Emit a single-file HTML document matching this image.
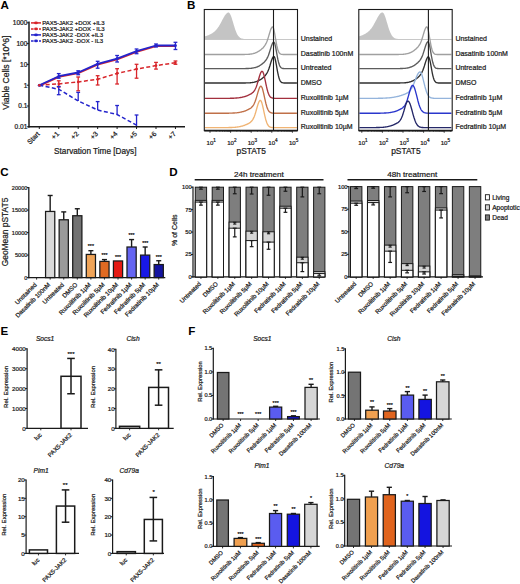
<!DOCTYPE html>
<html><head><meta charset="utf-8"><style>
html,body{margin:0;padding:0;background:#fff;width:520px;height:584px;overflow:hidden}
svg{display:block;font-family:"Liberation Sans",sans-serif}
</style></head><body>
<svg width="520" height="584" viewBox="0 0 520 584" font-family="Liberation Sans, sans-serif" fill="#1a1a1a"><text x="0.60" y="9.00" font-size="11.6" fill="#000" font-weight="bold">A</text>
<line x1="29.00" y1="21.50" x2="29.00" y2="127.50" stroke="#1a1a1a" stroke-width="1.5"/>
<line x1="28.30" y1="126.80" x2="185.00" y2="126.80" stroke="#1a1a1a" stroke-width="1.5"/>
<line x1="26.80" y1="22.80" x2="29.00" y2="22.80" stroke="#1a1a1a" stroke-width="1"/>
<text x="27.40" y="25.10" font-size="6.6" text-anchor="end" stroke="#1a1a1a" stroke-width="0.22">1000</text>
<line x1="26.80" y1="43.60" x2="29.00" y2="43.60" stroke="#1a1a1a" stroke-width="1"/>
<text x="27.40" y="45.90" font-size="6.6" text-anchor="end" stroke="#1a1a1a" stroke-width="0.22">100</text>
<line x1="26.80" y1="64.40" x2="29.00" y2="64.40" stroke="#1a1a1a" stroke-width="1"/>
<text x="27.40" y="66.70" font-size="6.6" text-anchor="end" stroke="#1a1a1a" stroke-width="0.22">10</text>
<line x1="26.80" y1="85.20" x2="29.00" y2="85.20" stroke="#1a1a1a" stroke-width="1"/>
<text x="27.40" y="87.50" font-size="6.6" text-anchor="end" stroke="#1a1a1a" stroke-width="0.22">1</text>
<line x1="26.80" y1="106.00" x2="29.00" y2="106.00" stroke="#1a1a1a" stroke-width="1"/>
<text x="27.40" y="108.30" font-size="6.6" text-anchor="end" stroke="#1a1a1a" stroke-width="0.22">0.1</text>
<line x1="26.80" y1="126.80" x2="29.00" y2="126.80" stroke="#1a1a1a" stroke-width="1"/>
<text x="27.40" y="129.10" font-size="6.6" text-anchor="end" stroke="#1a1a1a" stroke-width="0.22">0.01</text>
<line x1="39.30" y1="126.80" x2="39.30" y2="129.00" stroke="#1a1a1a" stroke-width="1"/>
<text x="40.20" y="134.40" font-size="6.9" text-anchor="end" stroke="#1a1a1a" stroke-width="0.22" transform="rotate(-45 40.20 134.40)">Start</text>
<line x1="58.75" y1="126.80" x2="58.75" y2="129.00" stroke="#1a1a1a" stroke-width="1"/>
<text x="59.65" y="134.40" font-size="6.9" text-anchor="end" stroke="#1a1a1a" stroke-width="0.22" transform="rotate(-45 59.65 134.40)">+1</text>
<line x1="78.20" y1="126.80" x2="78.20" y2="129.00" stroke="#1a1a1a" stroke-width="1"/>
<text x="79.10" y="134.40" font-size="6.9" text-anchor="end" stroke="#1a1a1a" stroke-width="0.22" transform="rotate(-45 79.10 134.40)">+2</text>
<line x1="97.65" y1="126.80" x2="97.65" y2="129.00" stroke="#1a1a1a" stroke-width="1"/>
<text x="98.55" y="134.40" font-size="6.9" text-anchor="end" stroke="#1a1a1a" stroke-width="0.22" transform="rotate(-45 98.55 134.40)">+3</text>
<line x1="117.10" y1="126.80" x2="117.10" y2="129.00" stroke="#1a1a1a" stroke-width="1"/>
<text x="118.00" y="134.40" font-size="6.9" text-anchor="end" stroke="#1a1a1a" stroke-width="0.22" transform="rotate(-45 118.00 134.40)">+4</text>
<line x1="136.55" y1="126.80" x2="136.55" y2="129.00" stroke="#1a1a1a" stroke-width="1"/>
<text x="137.45" y="134.40" font-size="6.9" text-anchor="end" stroke="#1a1a1a" stroke-width="0.22" transform="rotate(-45 137.45 134.40)">+5</text>
<line x1="156.00" y1="126.80" x2="156.00" y2="129.00" stroke="#1a1a1a" stroke-width="1"/>
<text x="156.90" y="134.40" font-size="6.9" text-anchor="end" stroke="#1a1a1a" stroke-width="0.22" transform="rotate(-45 156.90 134.40)">+6</text>
<line x1="175.45" y1="126.80" x2="175.45" y2="129.00" stroke="#1a1a1a" stroke-width="1"/>
<text x="176.35" y="134.40" font-size="6.9" text-anchor="end" stroke="#1a1a1a" stroke-width="0.22" transform="rotate(-45 176.35 134.40)">+7</text>
<text x="95.30" y="154.00" font-size="8.2" text-anchor="middle" stroke="#1a1a1a" stroke-width="0.22">Starvation Time [Days]</text>
<text x="9.20" y="72.60" font-size="8.6" text-anchor="middle" stroke="#1a1a1a" stroke-width="0.22" transform="rotate(-90 9.20 72.60)">Viable Cells [*10^6]</text>
<polyline points="39.3,85.9 58.8,76.9 78.2,73.2 97.6,64.6 117.1,59.3 136.6,51.9 156.0,46.2 175.4,46.2" fill="none" stroke="#d8262b" stroke-width="1.8" stroke-linejoin="round"/>
<polyline points="39.3,85.2 58.8,83.9 78.2,81.9 97.6,79.3 117.1,73.4 136.6,69.1 156.0,65.6 175.4,62.8" fill="none" stroke="#d8262b" stroke-width="1.5" stroke-dasharray="4,2.4" stroke-linejoin="round"/>
<polyline points="39.3,85.2 58.8,89.3 78.2,100.9 97.6,110.0 117.1,114.5 136.6,125.2" fill="none" stroke="#2424cc" stroke-width="1.5" stroke-dasharray="4,2.4" stroke-linejoin="round"/>
<polyline points="39.3,85.2 58.8,76.2 78.2,72.5 97.6,63.9 117.1,58.6 136.6,51.2 156.0,45.5 175.4,45.5" fill="none" stroke="#2424cc" stroke-width="1.8" stroke-linejoin="round"/>
<line x1="58.75" y1="73.60" x2="58.75" y2="78.20" stroke="#2424cc" stroke-width="1.3"/>
<line x1="56.85" y1="73.60" x2="60.65" y2="73.60" stroke="#2424cc" stroke-width="1.3"/>
<line x1="56.85" y1="78.20" x2="60.65" y2="78.20" stroke="#2424cc" stroke-width="1.3"/>
<line x1="78.20" y1="70.80" x2="78.20" y2="74.70" stroke="#2424cc" stroke-width="1.3"/>
<line x1="76.30" y1="70.80" x2="80.10" y2="70.80" stroke="#2424cc" stroke-width="1.3"/>
<line x1="76.30" y1="74.70" x2="80.10" y2="74.70" stroke="#2424cc" stroke-width="1.3"/>
<line x1="97.65" y1="61.30" x2="97.65" y2="68.20" stroke="#2424cc" stroke-width="1.3"/>
<line x1="95.75" y1="61.30" x2="99.55" y2="61.30" stroke="#2424cc" stroke-width="1.3"/>
<line x1="95.75" y1="68.20" x2="99.55" y2="68.20" stroke="#2424cc" stroke-width="1.3"/>
<line x1="117.10" y1="55.50" x2="117.10" y2="62.00" stroke="#2424cc" stroke-width="1.3"/>
<line x1="115.20" y1="55.50" x2="119.00" y2="55.50" stroke="#2424cc" stroke-width="1.3"/>
<line x1="115.20" y1="62.00" x2="119.00" y2="62.00" stroke="#2424cc" stroke-width="1.3"/>
<line x1="136.55" y1="49.00" x2="136.55" y2="53.70" stroke="#2424cc" stroke-width="1.3"/>
<line x1="134.65" y1="49.00" x2="138.45" y2="49.00" stroke="#2424cc" stroke-width="1.3"/>
<line x1="134.65" y1="53.70" x2="138.45" y2="53.70" stroke="#2424cc" stroke-width="1.3"/>
<line x1="156.00" y1="44.00" x2="156.00" y2="47.00" stroke="#2424cc" stroke-width="1.3"/>
<line x1="154.10" y1="44.00" x2="157.90" y2="44.00" stroke="#2424cc" stroke-width="1.3"/>
<line x1="154.10" y1="47.00" x2="157.90" y2="47.00" stroke="#2424cc" stroke-width="1.3"/>
<line x1="175.45" y1="42.30" x2="175.45" y2="49.50" stroke="#2424cc" stroke-width="1.3"/>
<line x1="173.55" y1="42.30" x2="177.35" y2="42.30" stroke="#2424cc" stroke-width="1.3"/>
<line x1="173.55" y1="49.50" x2="177.35" y2="49.50" stroke="#2424cc" stroke-width="1.3"/>
<line x1="58.75" y1="80.80" x2="58.75" y2="87.00" stroke="#d8262b" stroke-width="1.3"/>
<line x1="56.85" y1="80.80" x2="60.65" y2="80.80" stroke="#d8262b" stroke-width="1.3"/>
<line x1="56.85" y1="87.00" x2="60.65" y2="87.00" stroke="#d8262b" stroke-width="1.3"/>
<line x1="78.20" y1="77.00" x2="78.20" y2="90.80" stroke="#d8262b" stroke-width="1.3"/>
<line x1="76.30" y1="77.00" x2="80.10" y2="77.00" stroke="#d8262b" stroke-width="1.3"/>
<line x1="76.30" y1="90.80" x2="80.10" y2="90.80" stroke="#d8262b" stroke-width="1.3"/>
<line x1="97.65" y1="75.70" x2="97.65" y2="85.00" stroke="#d8262b" stroke-width="1.3"/>
<line x1="95.75" y1="75.70" x2="99.55" y2="75.70" stroke="#d8262b" stroke-width="1.3"/>
<line x1="95.75" y1="85.00" x2="99.55" y2="85.00" stroke="#d8262b" stroke-width="1.3"/>
<line x1="117.10" y1="68.70" x2="117.10" y2="84.00" stroke="#d8262b" stroke-width="1.3"/>
<line x1="115.20" y1="68.70" x2="119.00" y2="68.70" stroke="#d8262b" stroke-width="1.3"/>
<line x1="115.20" y1="84.00" x2="119.00" y2="84.00" stroke="#d8262b" stroke-width="1.3"/>
<line x1="136.55" y1="64.30" x2="136.55" y2="78.20" stroke="#d8262b" stroke-width="1.3"/>
<line x1="134.65" y1="64.30" x2="138.45" y2="64.30" stroke="#d8262b" stroke-width="1.3"/>
<line x1="134.65" y1="78.20" x2="138.45" y2="78.20" stroke="#d8262b" stroke-width="1.3"/>
<line x1="156.00" y1="62.40" x2="156.00" y2="69.10" stroke="#d8262b" stroke-width="1.3"/>
<line x1="154.10" y1="62.40" x2="157.90" y2="62.40" stroke="#d8262b" stroke-width="1.3"/>
<line x1="154.10" y1="69.10" x2="157.90" y2="69.10" stroke="#d8262b" stroke-width="1.3"/>
<line x1="175.45" y1="61.00" x2="175.45" y2="64.30" stroke="#d8262b" stroke-width="1.3"/>
<line x1="173.55" y1="61.00" x2="177.35" y2="61.00" stroke="#d8262b" stroke-width="1.3"/>
<line x1="173.55" y1="64.30" x2="177.35" y2="64.30" stroke="#d8262b" stroke-width="1.3"/>
<line x1="58.75" y1="86.50" x2="58.75" y2="94.70" stroke="#2424cc" stroke-width="1.3"/>
<line x1="56.85" y1="86.50" x2="60.65" y2="86.50" stroke="#2424cc" stroke-width="1.3"/>
<line x1="56.85" y1="94.70" x2="60.65" y2="94.70" stroke="#2424cc" stroke-width="1.3"/>
<line x1="78.20" y1="100.90" x2="78.20" y2="92.40" stroke="#2424cc" stroke-width="1.3"/>
<line x1="76.30" y1="92.40" x2="80.10" y2="92.40" stroke="#2424cc" stroke-width="1.3"/>
<line x1="97.65" y1="110.10" x2="97.65" y2="101.60" stroke="#2424cc" stroke-width="1.3"/>
<line x1="95.75" y1="101.60" x2="99.55" y2="101.60" stroke="#2424cc" stroke-width="1.3"/>
<line x1="117.10" y1="114.60" x2="117.10" y2="105.50" stroke="#2424cc" stroke-width="1.3"/>
<line x1="115.20" y1="105.50" x2="119.00" y2="105.50" stroke="#2424cc" stroke-width="1.3"/>
<line x1="136.55" y1="126.00" x2="136.55" y2="115.00" stroke="#2424cc" stroke-width="1.3"/>
<line x1="134.65" y1="115.00" x2="138.45" y2="115.00" stroke="#2424cc" stroke-width="1.3"/>
<circle cx="39.3" cy="85.2" r="1.5" fill="#2424cc"/>
<circle cx="58.8" cy="76.2" r="1.5" fill="#2424cc"/>
<circle cx="78.2" cy="72.5" r="1.5" fill="#2424cc"/>
<circle cx="97.6" cy="63.9" r="1.5" fill="#2424cc"/>
<circle cx="117.1" cy="58.6" r="1.5" fill="#2424cc"/>
<circle cx="136.6" cy="51.2" r="1.5" fill="#2424cc"/>
<circle cx="156.0" cy="45.5" r="1.5" fill="#2424cc"/>
<circle cx="175.4" cy="45.5" r="1.5" fill="#2424cc"/>
<circle cx="39.3" cy="85.2" r="1.3" fill="#d8262b"/>
<circle cx="58.8" cy="83.9" r="1.3" fill="#d8262b"/>
<circle cx="78.2" cy="81.9" r="1.3" fill="#d8262b"/>
<circle cx="97.6" cy="79.3" r="1.3" fill="#d8262b"/>
<circle cx="117.1" cy="73.4" r="1.3" fill="#d8262b"/>
<circle cx="136.6" cy="69.1" r="1.3" fill="#d8262b"/>
<circle cx="156.0" cy="65.6" r="1.3" fill="#d8262b"/>
<circle cx="175.4" cy="62.8" r="1.3" fill="#d8262b"/>
<line x1="31.00" y1="22.90" x2="41.00" y2="22.90" stroke="#d8262b" stroke-width="1.5"/>
<ellipse cx="36" cy="22.9" rx="1.9" ry="1.3" fill="#d8262b"/>
<text x="42.20" y="25.00" font-size="5.95" stroke="#1a1a1a" stroke-width="0.22">PAX5-JAK2 +DOX +IL3</text>
<line x1="31.00" y1="28.90" x2="41.00" y2="28.90" stroke="#d8262b" stroke-width="1.5" stroke-dasharray="2.6,1.4"/>
<ellipse cx="36" cy="28.9" rx="1.9" ry="1.3" fill="#d8262b"/>
<text x="42.20" y="31.00" font-size="5.95" stroke="#1a1a1a" stroke-width="0.22">PAX5-JAK2 +DOX - IL3</text>
<line x1="31.00" y1="34.90" x2="41.00" y2="34.90" stroke="#2424cc" stroke-width="1.5"/>
<ellipse cx="36" cy="34.9" rx="1.9" ry="1.3" fill="#2424cc"/>
<text x="42.20" y="37.00" font-size="5.95" stroke="#1a1a1a" stroke-width="0.22">PAX5-JAK2 -DOX +IL3</text>
<line x1="31.00" y1="40.90" x2="41.00" y2="40.90" stroke="#2424cc" stroke-width="1.5" stroke-dasharray="2.6,1.4"/>
<ellipse cx="36" cy="40.9" rx="1.9" ry="1.3" fill="#2424cc"/>
<text x="42.20" y="43.00" font-size="5.95" stroke="#1a1a1a" stroke-width="0.22">PAX5-JAK2 -DOX - IL3</text>
<text x="187.00" y="9.20" font-size="11.6" fill="#000" font-weight="bold">B</text>
<path d="M204.8,39 L204.8,36.5 L205.3,36.3 L205.8,36.1 L206.3,36.0 L206.8,35.8 L207.3,35.6 L207.8,35.4 L208.3,35.2 L208.8,35.0 L209.3,34.8 L209.8,34.5 L210.3,34.3 L210.8,34.0 L211.3,33.8 L211.8,33.5 L212.3,33.2 L212.8,32.8 L213.3,32.5 L213.8,32.1 L214.3,31.7 L214.8,31.3 L215.3,30.8 L215.8,30.3 L216.3,29.7 L216.8,29.1 L217.3,28.5 L217.8,27.8 L218.3,27.1 L218.8,26.4 L219.3,25.6 L219.8,24.7 L220.3,23.8 L220.8,22.9 L221.3,22.0 L221.8,21.0 L222.3,20.1 L222.8,19.1 L223.3,18.2 L223.8,17.3 L224.3,16.4 L224.8,15.6 L225.3,14.9 L225.8,14.2 L226.3,13.7 L226.8,13.2 L227.3,12.9 L227.8,12.6 L228.3,12.5 L228.8,12.6 L229.3,12.9 L229.8,13.5 L230.3,14.4 L230.8,15.5 L231.3,16.8 L231.8,18.3 L232.3,19.9 L232.8,21.6 L233.3,23.3 L233.8,25.0 L234.3,26.6 L234.8,28.2 L235.3,29.7 L235.8,31.1 L236.3,32.3 L236.8,33.4 L237.3,34.4 L237.8,35.3 L238.3,36.0 L238.8,36.6 L239.3,37.1 L239.8,37.5 L240.3,37.9 L240.8,38.1 L241.3,38.4 L241.8,38.5 L242.3,38.6 L242.8,38.7 L243.3,38.8 L243.8,38.9 L244.3,38.9 L244.3,39 Z" fill="#c4c4c4" stroke="none" stroke-width="0" />
<line x1="204.80" y1="39.50" x2="297.00" y2="39.50" stroke="#c8c8c8" stroke-width="1.1"/>
<text x="300.70" y="41.20" font-size="7.0" stroke="#1a1a1a" stroke-width="0.22">Unstained</text>
<polyline points="204.9,54.5 205.4,54.5 205.9,54.5 206.4,54.5 206.9,54.5 207.4,54.5 207.9,54.5 208.4,54.5 208.9,54.5 209.4,54.5 209.9,54.5 210.4,54.5 210.9,54.5 211.4,54.5 211.9,54.5 212.4,54.5 212.9,54.5 213.4,54.5 213.9,54.5 214.4,54.5 214.9,54.5 215.4,54.5 215.9,54.5 216.4,54.5 216.9,54.5 217.4,54.5 217.9,54.5 218.4,54.5 218.9,54.5 219.4,54.5 219.9,54.5 220.4,54.5 220.9,54.5 221.4,54.5 221.9,54.5 222.4,54.5 222.9,54.5 223.4,54.5 223.9,54.5 224.4,54.5 224.9,54.5 225.4,54.5 225.9,54.5 226.4,54.5 226.9,54.5 227.4,54.5 227.9,54.5 228.4,54.5 228.9,54.5 229.4,54.5 229.9,54.5 230.4,54.5 230.9,54.5 231.4,54.5 231.9,54.5 232.4,54.5 232.9,54.5 233.4,54.5 233.9,54.5 234.4,54.5 234.9,54.5 235.4,54.5 235.9,54.5 236.4,54.5 236.9,54.5 237.4,54.5 237.9,54.5 238.4,54.5 238.9,54.5 239.4,54.5 239.9,54.5 240.4,54.5 240.9,54.5 241.4,54.5 241.9,54.5 242.4,54.5 242.9,54.5 243.4,54.5 243.9,54.5 244.4,54.5 244.9,54.4 245.4,54.4 245.9,54.4 246.4,54.4 246.9,54.4 247.4,54.3 247.9,54.3 248.4,54.3 248.9,54.2 249.4,54.2 249.9,54.2 250.4,54.1 250.9,54.0 251.4,54.0 251.9,53.9 252.4,53.8 252.9,53.7 253.4,53.5 253.9,53.4 254.4,53.3 254.9,53.1 255.4,52.9 255.9,52.7 256.4,52.5 256.9,52.3 257.4,52.0 257.9,51.7 258.4,51.4 258.9,51.1 259.4,50.8 259.9,50.4 260.4,50.1 260.9,49.7 261.4,49.3 261.9,48.8 262.4,48.4 262.9,47.9 263.4,47.4 263.9,46.8 264.4,46.1 264.9,45.4 265.4,44.6 265.9,43.7 266.4,42.7 266.9,41.5 267.4,40.2 267.9,38.7 268.4,37.1 268.9,35.4 269.4,33.7 269.9,32.1 270.4,30.5 270.9,29.1 271.4,28.1 271.9,27.3 272.4,26.9 272.9,27.1 273.4,28.0 273.9,29.7 274.4,32.1 274.9,34.8 275.4,37.8 275.9,40.7 276.4,43.5 276.9,46.0 277.4,48.2 277.9,49.9 278.4,51.3 278.9,52.3 279.4,53.1 279.9,53.6 280.4,53.9 280.9,54.2 281.4,54.3 281.9,54.4 282.4,54.4 282.9,54.5 283.4,54.5 283.9,54.5 284.4,54.5 284.9,54.5 285.4,54.5 285.9,54.5 286.4,54.5 286.9,54.5 287.4,54.5 287.9,54.5 288.4,54.5 288.9,54.5 289.4,54.5 289.9,54.5 290.4,54.5 290.9,54.5 291.4,54.5 291.9,54.5 292.4,54.5 292.9,54.5 293.4,54.5 293.9,54.5 294.4,54.5 294.9,54.5 295.4,54.5 295.9,54.5 296.4,54.5 296.9,54.5" fill="none" stroke="#a0a0a0" stroke-width="1.35" stroke-linejoin="round"/>
<text x="300.70" y="56.20" font-size="7.0" stroke="#1a1a1a" stroke-width="0.22">Dasatinib 100nM</text>
<polyline points="204.9,68.6 205.4,68.6 205.9,68.6 206.4,68.6 206.9,68.6 207.4,68.6 207.9,68.6 208.4,68.6 208.9,68.6 209.4,68.6 209.9,68.6 210.4,68.6 210.9,68.6 211.4,68.6 211.9,68.6 212.4,68.6 212.9,68.6 213.4,68.6 213.9,68.6 214.4,68.6 214.9,68.6 215.4,68.6 215.9,68.6 216.4,68.6 216.9,68.6 217.4,68.6 217.9,68.6 218.4,68.6 218.9,68.6 219.4,68.6 219.9,68.6 220.4,68.6 220.9,68.6 221.4,68.6 221.9,68.6 222.4,68.6 222.9,68.6 223.4,68.6 223.9,68.6 224.4,68.6 224.9,68.6 225.4,68.6 225.9,68.6 226.4,68.6 226.9,68.6 227.4,68.6 227.9,68.6 228.4,68.6 228.9,68.6 229.4,68.6 229.9,68.6 230.4,68.6 230.9,68.6 231.4,68.6 231.9,68.6 232.4,68.6 232.9,68.6 233.4,68.6 233.9,68.6 234.4,68.6 234.9,68.6 235.4,68.6 235.9,68.6 236.4,68.6 236.9,68.6 237.4,68.6 237.9,68.6 238.4,68.6 238.9,68.6 239.4,68.6 239.9,68.6 240.4,68.6 240.9,68.6 241.4,68.6 241.9,68.6 242.4,68.6 242.9,68.6 243.4,68.6 243.9,68.6 244.4,68.6 244.9,68.6 245.4,68.6 245.9,68.5 246.4,68.5 246.9,68.5 247.4,68.5 247.9,68.5 248.4,68.5 248.9,68.4 249.4,68.4 249.9,68.4 250.4,68.3 250.9,68.3 251.4,68.2 251.9,68.2 252.4,68.1 252.9,68.0 253.4,67.9 253.9,67.8 254.4,67.7 254.9,67.6 255.4,67.5 255.9,67.3 256.4,67.1 256.9,67.0 257.4,66.8 257.9,66.5 258.4,66.3 258.9,66.1 259.4,65.8 259.9,65.5 260.4,65.2 260.9,64.8 261.4,64.5 261.9,64.1 262.4,63.7 262.9,63.3 263.4,62.9 263.9,62.4 264.4,62.0 264.9,61.4 265.4,60.8 265.9,60.2 266.4,59.4 266.9,58.6 267.4,57.7 267.9,56.6 268.4,55.4 268.9,54.0 269.4,52.5 269.9,50.9 270.4,49.3 270.9,47.7 271.4,46.1 271.9,44.8 272.4,43.6 272.9,42.7 273.4,42.2 273.9,42.1 274.4,42.7 274.9,44.1 275.4,46.1 275.9,48.6 276.4,51.4 276.9,54.2 277.4,57.0 277.9,59.5 278.4,61.7 278.9,63.6 279.4,65.0 279.9,66.1 280.4,67.0 280.9,67.5 281.4,67.9 281.9,68.2 282.4,68.4 282.9,68.5 283.4,68.5 283.9,68.6 284.4,68.6 284.9,68.6 285.4,68.6 285.9,68.6 286.4,68.6 286.9,68.6 287.4,68.6 287.9,68.6 288.4,68.6 288.9,68.6 289.4,68.6 289.9,68.6 290.4,68.6 290.9,68.6 291.4,68.6 291.9,68.6 292.4,68.6 292.9,68.6 293.4,68.6 293.9,68.6 294.4,68.6 294.9,68.6 295.4,68.6 295.9,68.6 296.4,68.6 296.9,68.6" fill="none" stroke="#5c5c5c" stroke-width="1.35" stroke-linejoin="round"/>
<text x="300.70" y="70.30" font-size="7.0" stroke="#1a1a1a" stroke-width="0.22">Untreated</text>
<polyline points="204.9,83.0 205.4,83.0 205.9,83.0 206.4,83.0 206.9,83.0 207.4,83.0 207.9,83.0 208.4,83.0 208.9,83.0 209.4,83.0 209.9,83.0 210.4,83.0 210.9,83.0 211.4,83.0 211.9,83.0 212.4,83.0 212.9,83.0 213.4,83.0 213.9,83.0 214.4,83.0 214.9,83.0 215.4,83.0 215.9,83.0 216.4,83.0 216.9,83.0 217.4,83.0 217.9,83.0 218.4,83.0 218.9,83.0 219.4,83.0 219.9,83.0 220.4,83.0 220.9,83.0 221.4,83.0 221.9,83.0 222.4,83.0 222.9,83.0 223.4,83.0 223.9,83.0 224.4,83.0 224.9,83.0 225.4,83.0 225.9,83.0 226.4,83.0 226.9,83.0 227.4,83.0 227.9,83.0 228.4,83.0 228.9,83.0 229.4,83.0 229.9,83.0 230.4,83.0 230.9,83.0 231.4,83.0 231.9,83.0 232.4,83.0 232.9,83.0 233.4,83.0 233.9,83.0 234.4,83.0 234.9,83.0 235.4,83.0 235.9,83.0 236.4,83.0 236.9,83.0 237.4,83.0 237.9,83.0 238.4,83.0 238.9,83.0 239.4,83.0 239.9,83.0 240.4,83.0 240.9,83.0 241.4,83.0 241.9,83.0 242.4,83.0 242.9,83.0 243.4,83.0 243.9,83.0 244.4,83.0 244.9,83.0 245.4,83.0 245.9,82.9 246.4,82.9 246.9,82.9 247.4,82.9 247.9,82.9 248.4,82.9 248.9,82.8 249.4,82.8 249.9,82.8 250.4,82.7 250.9,82.7 251.4,82.6 251.9,82.6 252.4,82.5 252.9,82.4 253.4,82.4 253.9,82.3 254.4,82.2 254.9,82.0 255.4,81.9 255.9,81.7 256.4,81.6 256.9,81.4 257.4,81.2 257.9,81.0 258.4,80.8 258.9,80.5 259.4,80.2 259.9,79.9 260.4,79.6 260.9,79.3 261.4,79.0 261.9,78.6 262.4,78.2 262.9,77.8 263.4,77.4 263.9,76.9 264.4,76.5 264.9,75.9 265.4,75.4 265.9,74.7 266.4,74.0 266.9,73.2 267.4,72.3 267.9,71.2 268.4,70.0 268.9,68.7 269.4,67.2 269.9,65.7 270.4,64.0 270.9,62.4 271.4,60.8 271.9,59.4 272.4,58.2 272.9,57.3 273.4,56.7 273.9,56.5 274.4,56.9 274.9,58.1 275.4,60.0 275.9,62.5 276.4,65.2 276.9,68.1 277.4,70.9 277.9,73.4 278.4,75.7 278.9,77.6 279.4,79.2 279.9,80.3 280.4,81.2 280.9,81.8 281.4,82.3 281.9,82.6 282.4,82.7 282.9,82.8 283.4,82.9 283.9,83.0 284.4,83.0 284.9,83.0 285.4,83.0 285.9,83.0 286.4,83.0 286.9,83.0 287.4,83.0 287.9,83.0 288.4,83.0 288.9,83.0 289.4,83.0 289.9,83.0 290.4,83.0 290.9,83.0 291.4,83.0 291.9,83.0 292.4,83.0 292.9,83.0 293.4,83.0 293.9,83.0 294.4,83.0 294.9,83.0 295.4,83.0 295.9,83.0 296.4,83.0 296.9,83.0" fill="none" stroke="#303030" stroke-width="1.35" stroke-linejoin="round"/>
<text x="300.70" y="84.70" font-size="7.0" stroke="#1a1a1a" stroke-width="0.22">DMSO</text>
<polyline points="204.9,98.3 205.4,98.3 205.9,98.3 206.4,98.3 206.9,98.3 207.4,98.3 207.9,98.3 208.4,98.3 208.9,98.3 209.4,98.3 209.9,98.3 210.4,98.3 210.9,98.3 211.4,98.3 211.9,98.3 212.4,98.3 212.9,98.3 213.4,98.3 213.9,98.3 214.4,98.3 214.9,98.3 215.4,98.3 215.9,98.3 216.4,98.3 216.9,98.3 217.4,98.3 217.9,98.3 218.4,98.3 218.9,98.3 219.4,98.3 219.9,98.3 220.4,98.3 220.9,98.3 221.4,98.3 221.9,98.3 222.4,98.3 222.9,98.3 223.4,98.3 223.9,98.3 224.4,98.3 224.9,98.3 225.4,98.3 225.9,98.3 226.4,98.3 226.9,98.3 227.4,98.3 227.9,98.3 228.4,98.3 228.9,98.3 229.4,98.3 229.9,98.3 230.4,98.2 230.9,98.2 231.4,98.2 231.9,98.2 232.4,98.2 232.9,98.2 233.4,98.2 233.9,98.2 234.4,98.1 234.9,98.1 235.4,98.1 235.9,98.0 236.4,98.0 236.9,98.0 237.4,97.9 237.9,97.9 238.4,97.8 238.9,97.8 239.4,97.7 239.9,97.6 240.4,97.5 240.9,97.5 241.4,97.4 241.9,97.3 242.4,97.1 242.9,97.0 243.4,96.9 243.9,96.8 244.4,96.6 244.9,96.5 245.4,96.3 245.9,96.1 246.4,96.0 246.9,95.8 247.4,95.6 247.9,95.4 248.4,95.1 248.9,94.9 249.4,94.7 249.9,94.4 250.4,94.2 250.9,93.9 251.4,93.6 251.9,93.2 252.4,92.8 252.9,92.4 253.4,91.9 253.9,91.3 254.4,90.6 254.9,89.8 255.4,88.8 255.9,87.7 256.4,86.4 256.9,85.0 257.4,83.4 257.9,81.7 258.4,79.9 258.9,78.2 259.4,76.5 259.9,74.9 260.4,73.5 260.9,72.4 261.4,71.7 261.9,71.3 262.4,71.4 262.9,72.0 263.4,73.2 263.9,74.8 264.4,76.8 264.9,79.1 265.4,81.4 265.9,83.8 266.4,86.2 266.9,88.3 267.4,90.3 267.9,92.0 268.4,93.4 268.9,94.6 269.4,95.6 269.9,96.4 270.4,96.9 270.9,97.4 271.4,97.7 271.9,97.9 272.4,98.0 272.9,98.1 273.4,98.2 273.9,98.2 274.4,98.3 274.9,98.3 275.4,98.3 275.9,98.3 276.4,98.3 276.9,98.3 277.4,98.3 277.9,98.3 278.4,98.3 278.9,98.3 279.4,98.3 279.9,98.3 280.4,98.3 280.9,98.3 281.4,98.3 281.9,98.3 282.4,98.3 282.9,98.3 283.4,98.3 283.9,98.3 284.4,98.3 284.9,98.3 285.4,98.3 285.9,98.3 286.4,98.3 286.9,98.3 287.4,98.3 287.9,98.3 288.4,98.3 288.9,98.3 289.4,98.3 289.9,98.3 290.4,98.3 290.9,98.3 291.4,98.3 291.9,98.3 292.4,98.3 292.9,98.3 293.4,98.3 293.9,98.3 294.4,98.3 294.9,98.3 295.4,98.3 295.9,98.3 296.4,98.3 296.9,98.3" fill="none" stroke="#a3303e" stroke-width="1.35" stroke-linejoin="round"/>
<text x="300.70" y="100.00" font-size="7.0" stroke="#1a1a1a" stroke-width="0.22">Ruxolitinib 1µM</text>
<polyline points="204.9,113.2 205.4,113.2 205.9,113.2 206.4,113.2 206.9,113.2 207.4,113.2 207.9,113.2 208.4,113.2 208.9,113.2 209.4,113.2 209.9,113.2 210.4,113.2 210.9,113.2 211.4,113.2 211.9,113.2 212.4,113.2 212.9,113.2 213.4,113.2 213.9,113.2 214.4,113.2 214.9,113.2 215.4,113.2 215.9,113.2 216.4,113.2 216.9,113.2 217.4,113.2 217.9,113.2 218.4,113.2 218.9,113.2 219.4,113.2 219.9,113.2 220.4,113.2 220.9,113.2 221.4,113.2 221.9,113.2 222.4,113.2 222.9,113.2 223.4,113.2 223.9,113.2 224.4,113.2 224.9,113.2 225.4,113.2 225.9,113.2 226.4,113.2 226.9,113.2 227.4,113.2 227.9,113.2 228.4,113.2 228.9,113.2 229.4,113.1 229.9,113.1 230.4,113.1 230.9,113.1 231.4,113.1 231.9,113.1 232.4,113.1 232.9,113.0 233.4,113.0 233.9,113.0 234.4,113.0 234.9,112.9 235.4,112.9 235.9,112.8 236.4,112.8 236.9,112.8 237.4,112.7 237.9,112.6 238.4,112.6 238.9,112.5 239.4,112.4 239.9,112.3 240.4,112.2 240.9,112.1 241.4,112.0 241.9,111.9 242.4,111.7 242.9,111.6 243.4,111.5 243.9,111.3 244.4,111.1 244.9,111.0 245.4,110.8 245.9,110.6 246.4,110.4 246.9,110.2 247.4,109.9 247.9,109.7 248.4,109.5 248.9,109.2 249.4,108.9 249.9,108.7 250.4,108.3 250.9,108.0 251.4,107.6 251.9,107.1 252.4,106.6 252.9,105.9 253.4,105.2 253.9,104.3 254.4,103.3 254.9,102.1 255.4,100.7 255.9,99.2 256.4,97.6 256.9,95.9 257.4,94.1 257.9,92.4 258.4,90.7 258.9,89.2 259.4,87.9 259.9,87.0 260.4,86.4 260.9,86.2 261.4,86.5 261.9,87.3 262.4,88.6 262.9,90.3 263.4,92.3 263.9,94.5 264.4,96.8 264.9,99.1 265.4,101.4 265.9,103.5 266.4,105.3 266.9,107.0 267.4,108.4 267.9,109.5 268.4,110.5 268.9,111.2 269.4,111.8 269.9,112.2 270.4,112.5 270.9,112.7 271.4,112.9 271.9,113.0 272.4,113.1 272.9,113.1 273.4,113.2 273.9,113.2 274.4,113.2 274.9,113.2 275.4,113.2 275.9,113.2 276.4,113.2 276.9,113.2 277.4,113.2 277.9,113.2 278.4,113.2 278.9,113.2 279.4,113.2 279.9,113.2 280.4,113.2 280.9,113.2 281.4,113.2 281.9,113.2 282.4,113.2 282.9,113.2 283.4,113.2 283.9,113.2 284.4,113.2 284.9,113.2 285.4,113.2 285.9,113.2 286.4,113.2 286.9,113.2 287.4,113.2 287.9,113.2 288.4,113.2 288.9,113.2 289.4,113.2 289.9,113.2 290.4,113.2 290.9,113.2 291.4,113.2 291.9,113.2 292.4,113.2 292.9,113.2 293.4,113.2 293.9,113.2 294.4,113.2 294.9,113.2 295.4,113.2 295.9,113.2 296.4,113.2 296.9,113.2" fill="none" stroke="#c07048" stroke-width="1.35" stroke-linejoin="round"/>
<text x="300.70" y="114.90" font-size="7.0" stroke="#1a1a1a" stroke-width="0.22">Ruxolitinib 5µM</text>
<polyline points="204.9,127.6 205.4,127.6 205.9,127.6 206.4,127.6 206.9,127.6 207.4,127.6 207.9,127.6 208.4,127.6 208.9,127.6 209.4,127.6 209.9,127.6 210.4,127.6 210.9,127.6 211.4,127.6 211.9,127.6 212.4,127.6 212.9,127.6 213.4,127.6 213.9,127.6 214.4,127.6 214.9,127.6 215.4,127.6 215.9,127.6 216.4,127.6 216.9,127.6 217.4,127.6 217.9,127.6 218.4,127.6 218.9,127.6 219.4,127.6 219.9,127.6 220.4,127.6 220.9,127.6 221.4,127.6 221.9,127.6 222.4,127.6 222.9,127.6 223.4,127.6 223.9,127.6 224.4,127.6 224.9,127.6 225.4,127.6 225.9,127.6 226.4,127.6 226.9,127.6 227.4,127.6 227.9,127.6 228.4,127.6 228.9,127.5 229.4,127.5 229.9,127.5 230.4,127.5 230.9,127.5 231.4,127.5 231.9,127.5 232.4,127.4 232.9,127.4 233.4,127.4 233.9,127.4 234.4,127.3 234.9,127.3 235.4,127.2 235.9,127.2 236.4,127.1 236.9,127.1 237.4,127.0 237.9,126.9 238.4,126.9 238.9,126.8 239.4,126.7 239.9,126.6 240.4,126.5 240.9,126.4 241.4,126.2 241.9,126.1 242.4,126.0 242.9,125.8 243.4,125.7 243.9,125.5 244.4,125.3 244.9,125.1 245.4,124.9 245.9,124.7 246.4,124.5 246.9,124.3 247.4,124.0 247.9,123.8 248.4,123.5 248.9,123.3 249.4,123.0 249.9,122.6 250.4,122.3 250.9,121.8 251.4,121.4 251.9,120.8 252.4,120.1 252.9,119.4 253.4,118.4 253.9,117.4 254.4,116.2 254.9,114.8 255.4,113.2 255.9,111.6 256.4,109.8 256.9,108.0 257.4,106.3 257.9,104.6 258.4,103.2 258.9,101.9 259.4,101.1 259.9,100.5 260.4,100.4 260.9,100.8 261.4,101.7 261.9,103.1 262.4,104.9 262.9,107.0 263.4,109.2 263.9,111.6 264.4,113.9 264.9,116.1 265.4,118.2 265.9,120.0 266.4,121.6 266.9,123.0 267.4,124.1 267.9,125.0 268.4,125.7 268.9,126.3 269.4,126.7 269.9,127.0 270.4,127.2 270.9,127.3 271.4,127.4 271.9,127.5 272.4,127.5 272.9,127.6 273.4,127.6 273.9,127.6 274.4,127.6 274.9,127.6 275.4,127.6 275.9,127.6 276.4,127.6 276.9,127.6 277.4,127.6 277.9,127.6 278.4,127.6 278.9,127.6 279.4,127.6 279.9,127.6 280.4,127.6 280.9,127.6 281.4,127.6 281.9,127.6 282.4,127.6 282.9,127.6 283.4,127.6 283.9,127.6 284.4,127.6 284.9,127.6 285.4,127.6 285.9,127.6 286.4,127.6 286.9,127.6 287.4,127.6 287.9,127.6 288.4,127.6 288.9,127.6 289.4,127.6 289.9,127.6 290.4,127.6 290.9,127.6 291.4,127.6 291.9,127.6 292.4,127.6 292.9,127.6 293.4,127.6 293.9,127.6 294.4,127.6 294.9,127.6 295.4,127.6 295.9,127.6 296.4,127.6 296.9,127.6" fill="none" stroke="#f0b474" stroke-width="1.35" stroke-linejoin="round"/>
<text x="300.70" y="129.30" font-size="7.0" stroke="#1a1a1a" stroke-width="0.22">Ruxolitinib 10µM</text>
<line x1="273.50" y1="9.50" x2="273.50" y2="130.60" stroke="#1a1a1a" stroke-width="1.1"/>
<rect x="204.30" y="9.50" width="93.20" height="121.10" fill="none" stroke="#1a1a1a" stroke-width="1.1"/>
<line x1="204.30" y1="130.60" x2="297.50" y2="130.60" stroke="#1a1a1a" stroke-width="1.6"/>
<line x1="210.00" y1="130.60" x2="210.00" y2="132.80" stroke="#1a1a1a" stroke-width="0.8"/>
<text x="211.20" y="144.60" font-size="6.1" text-anchor="middle" stroke="#1a1a1a" stroke-width="0.22">10<tspan font-size="4.6" dy="-3">1</tspan></text>
<line x1="216.20" y1="130.60" x2="216.20" y2="131.90" stroke="#1a1a1a" stroke-width="0.5"/>
<line x1="219.83" y1="130.60" x2="219.83" y2="131.90" stroke="#1a1a1a" stroke-width="0.5"/>
<line x1="222.40" y1="130.60" x2="222.40" y2="131.90" stroke="#1a1a1a" stroke-width="0.5"/>
<line x1="224.40" y1="130.60" x2="224.40" y2="131.90" stroke="#1a1a1a" stroke-width="0.5"/>
<line x1="226.03" y1="130.60" x2="226.03" y2="131.90" stroke="#1a1a1a" stroke-width="0.5"/>
<line x1="227.41" y1="130.60" x2="227.41" y2="131.90" stroke="#1a1a1a" stroke-width="0.5"/>
<line x1="228.60" y1="130.60" x2="228.60" y2="131.90" stroke="#1a1a1a" stroke-width="0.5"/>
<line x1="229.66" y1="130.60" x2="229.66" y2="131.90" stroke="#1a1a1a" stroke-width="0.5"/>
<line x1="230.60" y1="130.60" x2="230.60" y2="132.80" stroke="#1a1a1a" stroke-width="0.8"/>
<text x="231.80" y="144.60" font-size="6.1" text-anchor="middle" stroke="#1a1a1a" stroke-width="0.22">10<tspan font-size="4.6" dy="-3">2</tspan></text>
<line x1="236.80" y1="130.60" x2="236.80" y2="131.90" stroke="#1a1a1a" stroke-width="0.5"/>
<line x1="240.43" y1="130.60" x2="240.43" y2="131.90" stroke="#1a1a1a" stroke-width="0.5"/>
<line x1="243.00" y1="130.60" x2="243.00" y2="131.90" stroke="#1a1a1a" stroke-width="0.5"/>
<line x1="245.00" y1="130.60" x2="245.00" y2="131.90" stroke="#1a1a1a" stroke-width="0.5"/>
<line x1="246.63" y1="130.60" x2="246.63" y2="131.90" stroke="#1a1a1a" stroke-width="0.5"/>
<line x1="248.01" y1="130.60" x2="248.01" y2="131.90" stroke="#1a1a1a" stroke-width="0.5"/>
<line x1="249.20" y1="130.60" x2="249.20" y2="131.90" stroke="#1a1a1a" stroke-width="0.5"/>
<line x1="250.26" y1="130.60" x2="250.26" y2="131.90" stroke="#1a1a1a" stroke-width="0.5"/>
<line x1="251.20" y1="130.60" x2="251.20" y2="132.80" stroke="#1a1a1a" stroke-width="0.8"/>
<text x="252.40" y="144.60" font-size="6.1" text-anchor="middle" stroke="#1a1a1a" stroke-width="0.22">10<tspan font-size="4.6" dy="-3">3</tspan></text>
<line x1="257.40" y1="130.60" x2="257.40" y2="131.90" stroke="#1a1a1a" stroke-width="0.5"/>
<line x1="261.03" y1="130.60" x2="261.03" y2="131.90" stroke="#1a1a1a" stroke-width="0.5"/>
<line x1="263.60" y1="130.60" x2="263.60" y2="131.90" stroke="#1a1a1a" stroke-width="0.5"/>
<line x1="265.60" y1="130.60" x2="265.60" y2="131.90" stroke="#1a1a1a" stroke-width="0.5"/>
<line x1="267.23" y1="130.60" x2="267.23" y2="131.90" stroke="#1a1a1a" stroke-width="0.5"/>
<line x1="268.61" y1="130.60" x2="268.61" y2="131.90" stroke="#1a1a1a" stroke-width="0.5"/>
<line x1="269.80" y1="130.60" x2="269.80" y2="131.90" stroke="#1a1a1a" stroke-width="0.5"/>
<line x1="270.86" y1="130.60" x2="270.86" y2="131.90" stroke="#1a1a1a" stroke-width="0.5"/>
<line x1="271.80" y1="130.60" x2="271.80" y2="132.80" stroke="#1a1a1a" stroke-width="0.8"/>
<text x="273.00" y="144.60" font-size="6.1" text-anchor="middle" stroke="#1a1a1a" stroke-width="0.22">10<tspan font-size="4.6" dy="-3">4</tspan></text>
<line x1="278.00" y1="130.60" x2="278.00" y2="131.90" stroke="#1a1a1a" stroke-width="0.5"/>
<line x1="281.63" y1="130.60" x2="281.63" y2="131.90" stroke="#1a1a1a" stroke-width="0.5"/>
<line x1="284.20" y1="130.60" x2="284.20" y2="131.90" stroke="#1a1a1a" stroke-width="0.5"/>
<line x1="286.20" y1="130.60" x2="286.20" y2="131.90" stroke="#1a1a1a" stroke-width="0.5"/>
<line x1="287.83" y1="130.60" x2="287.83" y2="131.90" stroke="#1a1a1a" stroke-width="0.5"/>
<line x1="289.21" y1="130.60" x2="289.21" y2="131.90" stroke="#1a1a1a" stroke-width="0.5"/>
<line x1="290.40" y1="130.60" x2="290.40" y2="131.90" stroke="#1a1a1a" stroke-width="0.5"/>
<line x1="291.46" y1="130.60" x2="291.46" y2="131.90" stroke="#1a1a1a" stroke-width="0.5"/>
<line x1="292.40" y1="130.60" x2="292.40" y2="132.80" stroke="#1a1a1a" stroke-width="0.8"/>
<text x="293.60" y="144.60" font-size="6.1" text-anchor="middle" stroke="#1a1a1a" stroke-width="0.22">10<tspan font-size="4.6" dy="-3">5</tspan></text>
<text x="251.30" y="154.20" font-size="8.4" text-anchor="middle" stroke="#1a1a1a" stroke-width="0.22">pSTAT5</text>
<path d="M359.3,39 L359.3,36.3 L359.8,36.1 L360.3,35.9 L360.8,35.8 L361.3,35.6 L361.8,35.4 L362.3,35.2 L362.8,34.9 L363.3,34.7 L363.8,34.5 L364.3,34.2 L364.8,34.0 L365.3,33.7 L365.8,33.4 L366.3,33.1 L366.8,32.8 L367.3,32.4 L367.8,32.0 L368.3,31.6 L368.8,31.2 L369.3,30.7 L369.8,30.2 L370.3,29.6 L370.8,29.0 L371.3,28.4 L371.8,27.7 L372.3,27.0 L372.8,26.2 L373.3,25.4 L373.8,24.5 L374.3,23.6 L374.8,22.7 L375.3,21.8 L375.8,20.8 L376.3,19.9 L376.8,18.9 L377.3,18.0 L377.8,17.1 L378.3,16.3 L378.8,15.5 L379.3,14.7 L379.8,14.1 L380.3,13.6 L380.8,13.1 L381.3,12.8 L381.8,12.6 L382.3,12.5 L382.8,12.6 L383.3,13.0 L383.8,13.6 L384.3,14.6 L384.8,15.7 L385.3,17.1 L385.8,18.6 L386.3,20.2 L386.8,21.9 L387.3,23.6 L387.8,25.3 L388.3,26.9 L388.8,28.5 L389.3,30.0 L389.8,31.3 L390.3,32.5 L390.8,33.6 L391.3,34.6 L391.8,35.4 L392.3,36.1 L392.8,36.7 L393.3,37.2 L393.8,37.6 L394.3,37.9 L394.8,38.2 L395.3,38.4 L395.8,38.5 L396.3,38.7 L396.8,38.8 L397.3,38.8 L397.8,38.9 L398.3,38.9 L398.8,38.9 L398.8,39 Z" fill="#c4c4c4" stroke="none" stroke-width="0" />
<line x1="359.30" y1="39.50" x2="451.70" y2="39.50" stroke="#c8c8c8" stroke-width="1.1"/>
<text x="455.40" y="41.20" font-size="7.0" stroke="#1a1a1a" stroke-width="0.22">Unstained</text>
<polyline points="359.4,54.5 359.9,54.5 360.4,54.5 360.9,54.5 361.4,54.5 361.9,54.5 362.4,54.5 362.9,54.5 363.4,54.5 363.9,54.5 364.4,54.5 364.9,54.5 365.4,54.5 365.9,54.5 366.4,54.5 366.9,54.5 367.4,54.5 367.9,54.5 368.4,54.5 368.9,54.5 369.4,54.5 369.9,54.5 370.4,54.5 370.9,54.5 371.4,54.5 371.9,54.5 372.4,54.5 372.9,54.5 373.4,54.5 373.9,54.5 374.4,54.5 374.9,54.5 375.4,54.5 375.9,54.5 376.4,54.5 376.9,54.5 377.4,54.5 377.9,54.5 378.4,54.5 378.9,54.5 379.4,54.5 379.9,54.5 380.4,54.5 380.9,54.5 381.4,54.5 381.9,54.5 382.4,54.5 382.9,54.5 383.4,54.5 383.9,54.5 384.4,54.5 384.9,54.5 385.4,54.5 385.9,54.5 386.4,54.5 386.9,54.5 387.4,54.5 387.9,54.5 388.4,54.5 388.9,54.5 389.4,54.5 389.9,54.5 390.4,54.5 390.9,54.5 391.4,54.5 391.9,54.5 392.4,54.5 392.9,54.5 393.4,54.5 393.9,54.5 394.4,54.5 394.9,54.5 395.4,54.5 395.9,54.5 396.4,54.5 396.9,54.5 397.4,54.5 397.9,54.5 398.4,54.5 398.9,54.4 399.4,54.4 399.9,54.4 400.4,54.4 400.9,54.4 401.4,54.4 401.9,54.3 402.4,54.3 402.9,54.3 403.4,54.2 403.9,54.2 404.4,54.1 404.9,54.1 405.4,54.0 405.9,53.9 406.4,53.8 406.9,53.7 407.4,53.6 407.9,53.5 408.4,53.3 408.9,53.2 409.4,53.0 409.9,52.8 410.4,52.6 410.9,52.4 411.4,52.1 411.9,51.8 412.4,51.6 412.9,51.3 413.4,50.9 413.9,50.6 414.4,50.2 414.9,49.8 415.4,49.4 415.9,49.0 416.4,48.6 416.9,48.1 417.4,47.6 417.9,47.0 418.4,46.4 418.9,45.7 419.4,45.0 419.9,44.1 420.4,43.1 420.9,42.0 421.4,40.7 421.9,39.3 422.4,37.7 422.9,36.1 423.4,34.4 423.9,32.7 424.4,31.1 424.9,29.7 425.4,28.5 425.9,27.6 426.4,27.0 426.9,26.9 427.4,27.5 427.9,28.9 428.4,31.1 428.9,33.7 429.4,36.6 429.9,39.5 430.4,42.4 430.9,45.1 431.4,47.3 431.9,49.2 432.4,50.8 432.9,51.9 433.4,52.8 433.9,53.4 434.4,53.8 434.9,54.1 435.4,54.3 435.9,54.4 436.4,54.4 436.9,54.5 437.4,54.5 437.9,54.5 438.4,54.5 438.9,54.5 439.4,54.5 439.9,54.5 440.4,54.5 440.9,54.5 441.4,54.5 441.9,54.5 442.4,54.5 442.9,54.5 443.4,54.5 443.9,54.5 444.4,54.5 444.9,54.5 445.4,54.5 445.9,54.5 446.4,54.5 446.9,54.5 447.4,54.5 447.9,54.5 448.4,54.5 448.9,54.5 449.4,54.5 449.9,54.5 450.4,54.5 450.9,54.5 451.4,54.5" fill="none" stroke="#a0a0a0" stroke-width="1.35" stroke-linejoin="round"/>
<text x="455.40" y="56.20" font-size="7.0" stroke="#1a1a1a" stroke-width="0.22">Dasatinib 100nM</text>
<polyline points="359.4,68.6 359.9,68.6 360.4,68.6 360.9,68.6 361.4,68.6 361.9,68.6 362.4,68.6 362.9,68.6 363.4,68.6 363.9,68.6 364.4,68.6 364.9,68.6 365.4,68.6 365.9,68.6 366.4,68.6 366.9,68.6 367.4,68.6 367.9,68.6 368.4,68.6 368.9,68.6 369.4,68.6 369.9,68.6 370.4,68.6 370.9,68.6 371.4,68.6 371.9,68.6 372.4,68.6 372.9,68.6 373.4,68.6 373.9,68.6 374.4,68.6 374.9,68.6 375.4,68.6 375.9,68.6 376.4,68.6 376.9,68.6 377.4,68.6 377.9,68.6 378.4,68.6 378.9,68.6 379.4,68.6 379.9,68.6 380.4,68.6 380.9,68.6 381.4,68.6 381.9,68.6 382.4,68.6 382.9,68.6 383.4,68.6 383.9,68.6 384.4,68.6 384.9,68.6 385.4,68.6 385.9,68.6 386.4,68.6 386.9,68.6 387.4,68.6 387.9,68.6 388.4,68.6 388.9,68.6 389.4,68.6 389.9,68.6 390.4,68.6 390.9,68.6 391.4,68.6 391.9,68.6 392.4,68.6 392.9,68.6 393.4,68.6 393.9,68.6 394.4,68.6 394.9,68.6 395.4,68.6 395.9,68.6 396.4,68.6 396.9,68.6 397.4,68.6 397.9,68.6 398.4,68.6 398.9,68.6 399.4,68.6 399.9,68.6 400.4,68.5 400.9,68.5 401.4,68.5 401.9,68.5 402.4,68.5 402.9,68.4 403.4,68.4 403.9,68.4 404.4,68.3 404.9,68.3 405.4,68.3 405.9,68.2 406.4,68.1 406.9,68.1 407.4,68.0 407.9,67.9 408.4,67.8 408.9,67.6 409.4,67.5 409.9,67.4 410.4,67.2 410.9,67.0 411.4,66.8 411.9,66.6 412.4,66.4 412.9,66.1 413.4,65.9 413.9,65.6 414.4,65.3 414.9,64.9 415.4,64.6 415.9,64.2 416.4,63.8 416.9,63.4 417.4,63.0 417.9,62.6 418.4,62.1 418.9,61.6 419.4,61.0 419.9,60.4 420.4,59.7 420.9,58.8 421.4,57.9 421.9,56.9 422.4,55.7 422.9,54.4 423.4,52.9 423.9,51.4 424.4,49.8 424.9,48.1 425.4,46.5 425.9,45.0 426.4,43.7 426.9,42.7 427.4,42.1 427.9,41.8 428.4,42.1 428.9,43.1 429.4,44.9 429.9,47.3 430.4,50.0 430.9,52.9 431.4,55.8 431.9,58.4 432.4,60.8 432.9,62.8 433.4,64.4 433.9,65.7 434.4,66.6 434.9,67.3 435.4,67.8 435.9,68.1 436.4,68.3 436.9,68.4 437.4,68.5 437.9,68.5 438.4,68.6 438.9,68.6 439.4,68.6 439.9,68.6 440.4,68.6 440.9,68.6 441.4,68.6 441.9,68.6 442.4,68.6 442.9,68.6 443.4,68.6 443.9,68.6 444.4,68.6 444.9,68.6 445.4,68.6 445.9,68.6 446.4,68.6 446.9,68.6 447.4,68.6 447.9,68.6 448.4,68.6 448.9,68.6 449.4,68.6 449.9,68.6 450.4,68.6 450.9,68.6 451.4,68.6" fill="none" stroke="#5c5c5c" stroke-width="1.35" stroke-linejoin="round"/>
<text x="455.40" y="70.30" font-size="7.0" stroke="#1a1a1a" stroke-width="0.22">Untreated</text>
<polyline points="359.4,83.0 359.9,83.0 360.4,83.0 360.9,83.0 361.4,83.0 361.9,83.0 362.4,83.0 362.9,83.0 363.4,83.0 363.9,83.0 364.4,83.0 364.9,83.0 365.4,83.0 365.9,83.0 366.4,83.0 366.9,83.0 367.4,83.0 367.9,83.0 368.4,83.0 368.9,83.0 369.4,83.0 369.9,83.0 370.4,83.0 370.9,83.0 371.4,83.0 371.9,83.0 372.4,83.0 372.9,83.0 373.4,83.0 373.9,83.0 374.4,83.0 374.9,83.0 375.4,83.0 375.9,83.0 376.4,83.0 376.9,83.0 377.4,83.0 377.9,83.0 378.4,83.0 378.9,83.0 379.4,83.0 379.9,83.0 380.4,83.0 380.9,83.0 381.4,83.0 381.9,83.0 382.4,83.0 382.9,83.0 383.4,83.0 383.9,83.0 384.4,83.0 384.9,83.0 385.4,83.0 385.9,83.0 386.4,83.0 386.9,83.0 387.4,83.0 387.9,83.0 388.4,83.0 388.9,83.0 389.4,83.0 389.9,83.0 390.4,83.0 390.9,83.0 391.4,83.0 391.9,83.0 392.4,83.0 392.9,83.0 393.4,83.0 393.9,83.0 394.4,83.0 394.9,83.0 395.4,83.0 395.9,83.0 396.4,83.0 396.9,83.0 397.4,83.0 397.9,83.0 398.4,83.0 398.9,83.0 399.4,83.0 399.9,83.0 400.4,82.9 400.9,82.9 401.4,82.9 401.9,82.9 402.4,82.9 402.9,82.9 403.4,82.8 403.9,82.8 404.4,82.8 404.9,82.7 405.4,82.7 405.9,82.7 406.4,82.6 406.9,82.5 407.4,82.5 407.9,82.4 408.4,82.3 408.9,82.2 409.4,82.0 409.9,81.9 410.4,81.8 410.9,81.6 411.4,81.4 411.9,81.2 412.4,81.0 412.9,80.8 413.4,80.5 413.9,80.3 414.4,80.0 414.9,79.7 415.4,79.4 415.9,79.0 416.4,78.7 416.9,78.3 417.4,77.9 417.9,77.5 418.4,77.0 418.9,76.5 419.4,76.0 419.9,75.4 420.4,74.8 420.9,74.1 421.4,73.3 421.9,72.4 422.4,71.3 422.9,70.2 423.4,68.8 423.9,67.4 424.4,65.9 424.9,64.2 425.4,62.6 425.9,61.1 426.4,59.7 426.9,58.5 427.4,57.6 427.9,57.0 428.4,56.8 428.9,57.2 429.4,58.4 429.9,60.3 430.4,62.7 430.9,65.4 431.4,68.2 431.9,71.0 432.4,73.6 432.9,75.8 433.4,77.7 433.9,79.2 434.4,80.4 434.9,81.2 435.4,81.8 435.9,82.3 436.4,82.6 436.9,82.7 437.4,82.9 437.9,82.9 438.4,83.0 438.9,83.0 439.4,83.0 439.9,83.0 440.4,83.0 440.9,83.0 441.4,83.0 441.9,83.0 442.4,83.0 442.9,83.0 443.4,83.0 443.9,83.0 444.4,83.0 444.9,83.0 445.4,83.0 445.9,83.0 446.4,83.0 446.9,83.0 447.4,83.0 447.9,83.0 448.4,83.0 448.9,83.0 449.4,83.0 449.9,83.0 450.4,83.0 450.9,83.0 451.4,83.0" fill="none" stroke="#303030" stroke-width="1.35" stroke-linejoin="round"/>
<text x="455.40" y="84.70" font-size="7.0" stroke="#1a1a1a" stroke-width="0.22">DMSO</text>
<polyline points="359.4,98.3 359.9,98.3 360.4,98.3 360.9,98.3 361.4,98.3 361.9,98.3 362.4,98.3 362.9,98.3 363.4,98.3 363.9,98.3 364.4,98.3 364.9,98.3 365.4,98.3 365.9,98.3 366.4,98.3 366.9,98.3 367.4,98.3 367.9,98.3 368.4,98.3 368.9,98.3 369.4,98.3 369.9,98.3 370.4,98.3 370.9,98.3 371.4,98.3 371.9,98.3 372.4,98.3 372.9,98.3 373.4,98.3 373.9,98.3 374.4,98.3 374.9,98.3 375.4,98.3 375.9,98.3 376.4,98.3 376.9,98.3 377.4,98.3 377.9,98.3 378.4,98.2 378.9,98.2 379.4,98.2 379.9,98.2 380.4,98.2 380.9,98.2 381.4,98.2 381.9,98.2 382.4,98.2 382.9,98.2 383.4,98.1 383.9,98.1 384.4,98.1 384.9,98.1 385.4,98.1 385.9,98.0 386.4,98.0 386.9,98.0 387.4,97.9 387.9,97.9 388.4,97.9 388.9,97.8 389.4,97.8 389.9,97.7 390.4,97.7 390.9,97.6 391.4,97.6 391.9,97.5 392.4,97.4 392.9,97.4 393.4,97.3 393.9,97.2 394.4,97.1 394.9,97.0 395.4,96.9 395.9,96.8 396.4,96.7 396.9,96.6 397.4,96.5 397.9,96.4 398.4,96.3 398.9,96.1 399.4,96.0 399.9,95.9 400.4,95.7 400.9,95.6 401.4,95.4 401.9,95.2 402.4,95.1 402.9,94.9 403.4,94.7 403.9,94.5 404.4,94.4 404.9,94.2 405.4,93.9 405.9,93.7 406.4,93.5 406.9,93.2 407.4,92.9 407.9,92.6 408.4,92.2 408.9,91.8 409.4,91.3 409.9,90.8 410.4,90.2 410.9,89.5 411.4,88.7 411.9,87.9 412.4,86.9 412.9,85.9 413.4,84.8 413.9,83.6 414.4,82.3 414.9,81.0 415.4,79.7 415.9,78.4 416.4,77.1 416.9,76.0 417.4,74.9 417.9,73.9 418.4,73.1 418.9,72.5 419.4,72.2 419.9,72.0 420.4,72.1 420.9,72.7 421.4,73.6 421.9,74.9 422.4,76.5 422.9,78.4 423.4,80.3 423.9,82.3 424.4,84.4 424.9,86.4 425.4,88.2 425.9,89.9 426.4,91.5 426.9,92.8 427.4,94.0 427.9,94.9 428.4,95.7 428.9,96.4 429.4,96.9 429.9,97.3 430.4,97.5 430.9,97.8 431.4,97.9 431.9,98.0 432.4,98.1 432.9,98.2 433.4,98.2 433.9,98.3 434.4,98.3 434.9,98.3 435.4,98.3 435.9,98.3 436.4,98.3 436.9,98.3 437.4,98.3 437.9,98.3 438.4,98.3 438.9,98.3 439.4,98.3 439.9,98.3 440.4,98.3 440.9,98.3 441.4,98.3 441.9,98.3 442.4,98.3 442.9,98.3 443.4,98.3 443.9,98.3 444.4,98.3 444.9,98.3 445.4,98.3 445.9,98.3 446.4,98.3 446.9,98.3 447.4,98.3 447.9,98.3 448.4,98.3 448.9,98.3 449.4,98.3 449.9,98.3 450.4,98.3 450.9,98.3 451.4,98.3" fill="none" stroke="#94b4dc" stroke-width="1.35" stroke-linejoin="round"/>
<text x="455.40" y="100.00" font-size="7.0" stroke="#1a1a1a" stroke-width="0.22">Fedratinib 1µM</text>
<polyline points="359.4,113.2 359.9,113.2 360.4,113.2 360.9,113.2 361.4,113.2 361.9,113.2 362.4,113.2 362.9,113.2 363.4,113.2 363.9,113.2 364.4,113.2 364.9,113.2 365.4,113.2 365.9,113.2 366.4,113.2 366.9,113.2 367.4,113.2 367.9,113.2 368.4,113.2 368.9,113.2 369.4,113.2 369.9,113.2 370.4,113.2 370.9,113.2 371.4,113.2 371.9,113.2 372.4,113.2 372.9,113.2 373.4,113.2 373.9,113.2 374.4,113.2 374.9,113.2 375.4,113.2 375.9,113.2 376.4,113.2 376.9,113.2 377.4,113.2 377.9,113.2 378.4,113.2 378.9,113.2 379.4,113.2 379.9,113.2 380.4,113.2 380.9,113.1 381.4,113.1 381.9,113.1 382.4,113.1 382.9,113.1 383.4,113.1 383.9,113.1 384.4,113.0 384.9,113.0 385.4,113.0 385.9,113.0 386.4,112.9 386.9,112.9 387.4,112.9 387.9,112.8 388.4,112.8 388.9,112.7 389.4,112.6 389.9,112.6 390.4,112.5 390.9,112.4 391.4,112.3 391.9,112.2 392.4,112.1 392.9,112.0 393.4,111.9 393.9,111.8 394.4,111.6 394.9,111.5 395.4,111.3 395.9,111.1 396.4,111.0 396.9,110.8 397.4,110.6 397.9,110.4 398.4,110.2 398.9,109.9 399.4,109.7 399.9,109.5 400.4,109.2 400.9,108.9 401.4,108.6 401.9,108.3 402.4,108.0 402.9,107.6 403.4,107.1 403.9,106.6 404.4,106.0 404.9,105.3 405.4,104.4 405.9,103.4 406.4,102.3 406.9,100.9 407.4,99.5 407.9,97.8 408.4,96.1 408.9,94.3 409.4,92.5 409.9,90.7 410.4,89.1 410.9,87.7 411.4,86.6 411.9,85.8 412.4,85.4 412.9,85.5 413.4,85.9 413.9,86.7 414.4,87.8 414.9,89.3 415.4,90.9 415.9,92.8 416.4,94.7 416.9,96.7 417.4,98.7 417.9,100.7 418.4,102.5 418.9,104.2 419.4,105.7 419.9,107.1 420.4,108.2 420.9,109.3 421.4,110.1 421.9,110.8 422.4,111.4 422.9,111.8 423.4,112.2 423.9,112.5 424.4,112.7 424.9,112.8 425.4,112.9 425.9,113.0 426.4,113.1 426.9,113.1 427.4,113.1 427.9,113.2 428.4,113.2 428.9,113.2 429.4,113.2 429.9,113.2 430.4,113.2 430.9,113.2 431.4,113.2 431.9,113.2 432.4,113.2 432.9,113.2 433.4,113.2 433.9,113.2 434.4,113.2 434.9,113.2 435.4,113.2 435.9,113.2 436.4,113.2 436.9,113.2 437.4,113.2 437.9,113.2 438.4,113.2 438.9,113.2 439.4,113.2 439.9,113.2 440.4,113.2 440.9,113.2 441.4,113.2 441.9,113.2 442.4,113.2 442.9,113.2 443.4,113.2 443.9,113.2 444.4,113.2 444.9,113.2 445.4,113.2 445.9,113.2 446.4,113.2 446.9,113.2 447.4,113.2 447.9,113.2 448.4,113.2 448.9,113.2 449.4,113.2 449.9,113.2 450.4,113.2 450.9,113.2 451.4,113.2" fill="none" stroke="#2a36cc" stroke-width="1.35" stroke-linejoin="round"/>
<text x="455.40" y="114.90" font-size="7.0" stroke="#1a1a1a" stroke-width="0.22">Fedratinib 5µM</text>
<polyline points="359.4,127.6 359.9,127.6 360.4,127.6 360.9,127.6 361.4,127.6 361.9,127.6 362.4,127.6 362.9,127.6 363.4,127.6 363.9,127.6 364.4,127.6 364.9,127.6 365.4,127.6 365.9,127.6 366.4,127.6 366.9,127.6 367.4,127.6 367.9,127.6 368.4,127.6 368.9,127.6 369.4,127.6 369.9,127.6 370.4,127.6 370.9,127.6 371.4,127.6 371.9,127.6 372.4,127.6 372.9,127.6 373.4,127.6 373.9,127.6 374.4,127.6 374.9,127.6 375.4,127.6 375.9,127.6 376.4,127.5 376.9,127.5 377.4,127.5 377.9,127.5 378.4,127.5 378.9,127.5 379.4,127.5 379.9,127.4 380.4,127.4 380.9,127.4 381.4,127.4 381.9,127.3 382.4,127.3 382.9,127.3 383.4,127.2 383.9,127.2 384.4,127.1 384.9,127.1 385.4,127.0 385.9,126.9 386.4,126.8 386.9,126.8 387.4,126.7 387.9,126.6 388.4,126.4 388.9,126.3 389.4,126.2 389.9,126.1 390.4,125.9 390.9,125.8 391.4,125.6 391.9,125.4 392.4,125.3 392.9,125.1 393.4,124.9 393.9,124.7 394.4,124.5 394.9,124.2 395.4,124.0 395.9,123.7 396.4,123.5 396.9,123.2 397.4,122.9 397.9,122.6 398.4,122.2 398.9,121.7 399.4,121.2 399.9,120.6 400.4,119.9 400.9,119.1 401.4,118.1 401.9,116.9 402.4,115.7 402.9,114.2 403.4,112.6 403.9,111.0 404.4,109.2 404.9,107.5 405.4,105.8 405.9,104.3 406.4,103.0 406.9,102.0 407.4,101.4 407.9,101.1 408.4,101.2 408.9,101.7 409.4,102.5 409.9,103.6 410.4,104.9 410.9,106.5 411.4,108.2 411.9,110.0 412.4,111.9 412.9,113.8 413.4,115.6 413.9,117.3 414.4,118.8 414.9,120.3 415.4,121.6 415.9,122.7 416.4,123.7 416.9,124.5 417.4,125.2 417.9,125.7 418.4,126.2 418.9,126.5 419.4,126.8 419.9,127.0 420.4,127.2 420.9,127.3 421.4,127.4 421.9,127.5 422.4,127.5 422.9,127.5 423.4,127.6 423.9,127.6 424.4,127.6 424.9,127.6 425.4,127.6 425.9,127.6 426.4,127.6 426.9,127.6 427.4,127.6 427.9,127.6 428.4,127.6 428.9,127.6 429.4,127.6 429.9,127.6 430.4,127.6 430.9,127.6 431.4,127.6 431.9,127.6 432.4,127.6 432.9,127.6 433.4,127.6 433.9,127.6 434.4,127.6 434.9,127.6 435.4,127.6 435.9,127.6 436.4,127.6 436.9,127.6 437.4,127.6 437.9,127.6 438.4,127.6 438.9,127.6 439.4,127.6 439.9,127.6 440.4,127.6 440.9,127.6 441.4,127.6 441.9,127.6 442.4,127.6 442.9,127.6 443.4,127.6 443.9,127.6 444.4,127.6 444.9,127.6 445.4,127.6 445.9,127.6 446.4,127.6 446.9,127.6 447.4,127.6 447.9,127.6 448.4,127.6 448.9,127.6 449.4,127.6 449.9,127.6 450.4,127.6 450.9,127.6 451.4,127.6" fill="none" stroke="#252868" stroke-width="1.35" stroke-linejoin="round"/>
<text x="455.40" y="129.30" font-size="7.0" stroke="#1a1a1a" stroke-width="0.22">Fedratinib 10µM</text>
<line x1="428.40" y1="9.50" x2="428.40" y2="130.60" stroke="#1a1a1a" stroke-width="1.1"/>
<rect x="358.80" y="9.50" width="93.40" height="121.10" fill="none" stroke="#1a1a1a" stroke-width="1.1"/>
<line x1="358.80" y1="130.60" x2="452.20" y2="130.60" stroke="#1a1a1a" stroke-width="1.6"/>
<line x1="361.80" y1="130.60" x2="361.80" y2="132.80" stroke="#1a1a1a" stroke-width="0.8"/>
<text x="363.00" y="144.60" font-size="6.1" text-anchor="middle" stroke="#1a1a1a" stroke-width="0.22">10<tspan font-size="4.6" dy="-3">1</tspan></text>
<line x1="368.00" y1="130.60" x2="368.00" y2="131.90" stroke="#1a1a1a" stroke-width="0.5"/>
<line x1="371.63" y1="130.60" x2="371.63" y2="131.90" stroke="#1a1a1a" stroke-width="0.5"/>
<line x1="374.20" y1="130.60" x2="374.20" y2="131.90" stroke="#1a1a1a" stroke-width="0.5"/>
<line x1="376.20" y1="130.60" x2="376.20" y2="131.90" stroke="#1a1a1a" stroke-width="0.5"/>
<line x1="377.83" y1="130.60" x2="377.83" y2="131.90" stroke="#1a1a1a" stroke-width="0.5"/>
<line x1="379.21" y1="130.60" x2="379.21" y2="131.90" stroke="#1a1a1a" stroke-width="0.5"/>
<line x1="380.40" y1="130.60" x2="380.40" y2="131.90" stroke="#1a1a1a" stroke-width="0.5"/>
<line x1="381.46" y1="130.60" x2="381.46" y2="131.90" stroke="#1a1a1a" stroke-width="0.5"/>
<line x1="382.40" y1="130.60" x2="382.40" y2="132.80" stroke="#1a1a1a" stroke-width="0.8"/>
<text x="383.60" y="144.60" font-size="6.1" text-anchor="middle" stroke="#1a1a1a" stroke-width="0.22">10<tspan font-size="4.6" dy="-3">2</tspan></text>
<line x1="388.60" y1="130.60" x2="388.60" y2="131.90" stroke="#1a1a1a" stroke-width="0.5"/>
<line x1="392.23" y1="130.60" x2="392.23" y2="131.90" stroke="#1a1a1a" stroke-width="0.5"/>
<line x1="394.80" y1="130.60" x2="394.80" y2="131.90" stroke="#1a1a1a" stroke-width="0.5"/>
<line x1="396.80" y1="130.60" x2="396.80" y2="131.90" stroke="#1a1a1a" stroke-width="0.5"/>
<line x1="398.43" y1="130.60" x2="398.43" y2="131.90" stroke="#1a1a1a" stroke-width="0.5"/>
<line x1="399.81" y1="130.60" x2="399.81" y2="131.90" stroke="#1a1a1a" stroke-width="0.5"/>
<line x1="401.00" y1="130.60" x2="401.00" y2="131.90" stroke="#1a1a1a" stroke-width="0.5"/>
<line x1="402.06" y1="130.60" x2="402.06" y2="131.90" stroke="#1a1a1a" stroke-width="0.5"/>
<line x1="403.00" y1="130.60" x2="403.00" y2="132.80" stroke="#1a1a1a" stroke-width="0.8"/>
<text x="404.20" y="144.60" font-size="6.1" text-anchor="middle" stroke="#1a1a1a" stroke-width="0.22">10<tspan font-size="4.6" dy="-3">3</tspan></text>
<line x1="409.20" y1="130.60" x2="409.20" y2="131.90" stroke="#1a1a1a" stroke-width="0.5"/>
<line x1="412.83" y1="130.60" x2="412.83" y2="131.90" stroke="#1a1a1a" stroke-width="0.5"/>
<line x1="415.40" y1="130.60" x2="415.40" y2="131.90" stroke="#1a1a1a" stroke-width="0.5"/>
<line x1="417.40" y1="130.60" x2="417.40" y2="131.90" stroke="#1a1a1a" stroke-width="0.5"/>
<line x1="419.03" y1="130.60" x2="419.03" y2="131.90" stroke="#1a1a1a" stroke-width="0.5"/>
<line x1="420.41" y1="130.60" x2="420.41" y2="131.90" stroke="#1a1a1a" stroke-width="0.5"/>
<line x1="421.60" y1="130.60" x2="421.60" y2="131.90" stroke="#1a1a1a" stroke-width="0.5"/>
<line x1="422.66" y1="130.60" x2="422.66" y2="131.90" stroke="#1a1a1a" stroke-width="0.5"/>
<line x1="423.60" y1="130.60" x2="423.60" y2="132.80" stroke="#1a1a1a" stroke-width="0.8"/>
<text x="424.80" y="144.60" font-size="6.1" text-anchor="middle" stroke="#1a1a1a" stroke-width="0.22">10<tspan font-size="4.6" dy="-3">4</tspan></text>
<line x1="429.80" y1="130.60" x2="429.80" y2="131.90" stroke="#1a1a1a" stroke-width="0.5"/>
<line x1="433.43" y1="130.60" x2="433.43" y2="131.90" stroke="#1a1a1a" stroke-width="0.5"/>
<line x1="436.00" y1="130.60" x2="436.00" y2="131.90" stroke="#1a1a1a" stroke-width="0.5"/>
<line x1="438.00" y1="130.60" x2="438.00" y2="131.90" stroke="#1a1a1a" stroke-width="0.5"/>
<line x1="439.63" y1="130.60" x2="439.63" y2="131.90" stroke="#1a1a1a" stroke-width="0.5"/>
<line x1="441.01" y1="130.60" x2="441.01" y2="131.90" stroke="#1a1a1a" stroke-width="0.5"/>
<line x1="442.20" y1="130.60" x2="442.20" y2="131.90" stroke="#1a1a1a" stroke-width="0.5"/>
<line x1="443.26" y1="130.60" x2="443.26" y2="131.90" stroke="#1a1a1a" stroke-width="0.5"/>
<line x1="444.20" y1="130.60" x2="444.20" y2="132.80" stroke="#1a1a1a" stroke-width="0.8"/>
<text x="445.40" y="144.60" font-size="6.1" text-anchor="middle" stroke="#1a1a1a" stroke-width="0.22">10<tspan font-size="4.6" dy="-3">5</tspan></text>
<line x1="450.40" y1="130.60" x2="450.40" y2="131.90" stroke="#1a1a1a" stroke-width="0.5"/>
<text x="405.90" y="154.20" font-size="8.4" text-anchor="middle" stroke="#1a1a1a" stroke-width="0.22">pSTAT5</text>
<text x="0.30" y="176.20" font-size="11.6" fill="#000" font-weight="bold">C</text>
<line x1="28.80" y1="187.00" x2="28.80" y2="278.20" stroke="#1a1a1a" stroke-width="1.3"/>
<line x1="28.20" y1="277.60" x2="165.30" y2="277.60" stroke="#1a1a1a" stroke-width="1.3"/>
<line x1="26.80" y1="277.60" x2="28.80" y2="277.60" stroke="#1a1a1a" stroke-width="1"/>
<text x="27.40" y="279.60" font-size="5.6" text-anchor="end" stroke="#1a1a1a" stroke-width="0.22">0</text>
<line x1="26.80" y1="255.10" x2="28.80" y2="255.10" stroke="#1a1a1a" stroke-width="1"/>
<text x="27.40" y="257.10" font-size="5.6" text-anchor="end" stroke="#1a1a1a" stroke-width="0.22">5000</text>
<line x1="26.80" y1="232.60" x2="28.80" y2="232.60" stroke="#1a1a1a" stroke-width="1"/>
<text x="27.40" y="234.60" font-size="5.6" text-anchor="end" stroke="#1a1a1a" stroke-width="0.22">10000</text>
<line x1="26.80" y1="210.10" x2="28.80" y2="210.10" stroke="#1a1a1a" stroke-width="1"/>
<text x="27.40" y="212.10" font-size="5.6" text-anchor="end" stroke="#1a1a1a" stroke-width="0.22">15000</text>
<line x1="26.80" y1="187.60" x2="28.80" y2="187.60" stroke="#1a1a1a" stroke-width="1"/>
<text x="27.40" y="189.60" font-size="5.6" text-anchor="end" stroke="#1a1a1a" stroke-width="0.22">20000</text>
<text x="8.30" y="232.00" font-size="8.4" text-anchor="middle" stroke="#1a1a1a" stroke-width="0.22" transform="rotate(-90 8.30 232.00)">GeoMean pSTAT5</text>
<line x1="36.60" y1="277.60" x2="36.60" y2="279.60" stroke="#1a1a1a" stroke-width="0.9"/>
<text x="37.20" y="285.20" font-size="6.2" text-anchor="end" stroke="#1a1a1a" stroke-width="0.22" transform="rotate(-45 37.20 285.20)">Unstained</text>
<rect x="45.57" y="211.45" width="9.20" height="66.15" fill="#d9d9d9" stroke="#1a1a1a" stroke-width="1.25"/>
<line x1="50.17" y1="211.45" x2="50.17" y2="195.48" stroke="#1a1a1a" stroke-width="1.4"/>
<line x1="47.67" y1="195.48" x2="52.67" y2="195.48" stroke="#1a1a1a" stroke-width="1.4"/>
<line x1="50.17" y1="277.60" x2="50.17" y2="279.60" stroke="#1a1a1a" stroke-width="0.9"/>
<text x="50.77" y="285.20" font-size="6.2" text-anchor="end" stroke="#1a1a1a" stroke-width="0.22" transform="rotate(-45 50.77 285.20)">Dasatinib 100nM</text>
<rect x="59.14" y="219.78" width="9.20" height="57.82" fill="#9a9a9a" stroke="#1a1a1a" stroke-width="1.25"/>
<line x1="63.74" y1="219.78" x2="63.74" y2="211.90" stroke="#1a1a1a" stroke-width="1.4"/>
<line x1="61.24" y1="211.90" x2="66.24" y2="211.90" stroke="#1a1a1a" stroke-width="1.4"/>
<line x1="63.74" y1="277.60" x2="63.74" y2="279.60" stroke="#1a1a1a" stroke-width="0.9"/>
<text x="64.34" y="285.20" font-size="6.2" text-anchor="end" stroke="#1a1a1a" stroke-width="0.22" transform="rotate(-45 64.34 285.20)">Untreated</text>
<rect x="72.71" y="215.73" width="9.20" height="61.88" fill="#727272" stroke="#1a1a1a" stroke-width="1.25"/>
<line x1="77.31" y1="215.73" x2="77.31" y2="208.75" stroke="#1a1a1a" stroke-width="1.4"/>
<line x1="74.81" y1="208.75" x2="79.81" y2="208.75" stroke="#1a1a1a" stroke-width="1.4"/>
<line x1="77.31" y1="277.60" x2="77.31" y2="279.60" stroke="#1a1a1a" stroke-width="0.9"/>
<text x="77.91" y="285.20" font-size="6.2" text-anchor="end" stroke="#1a1a1a" stroke-width="0.22" transform="rotate(-45 77.91 285.20)">DMSO</text>
<rect x="86.28" y="254.43" width="9.20" height="23.18" fill="#f0a458" stroke="#1a1a1a" stroke-width="1.25"/>
<line x1="90.88" y1="254.43" x2="90.88" y2="250.69" stroke="#1a1a1a" stroke-width="1.4"/>
<line x1="88.38" y1="250.69" x2="93.38" y2="250.69" stroke="#1a1a1a" stroke-width="1.4"/>
<text x="90.88" y="248.49" font-size="5.2" text-anchor="middle" stroke="#1a1a1a" stroke-width="0.22">***</text>
<line x1="90.88" y1="277.60" x2="90.88" y2="279.60" stroke="#1a1a1a" stroke-width="0.9"/>
<text x="91.48" y="285.20" font-size="6.2" text-anchor="end" stroke="#1a1a1a" stroke-width="0.22" transform="rotate(-45 91.48 285.20)">Ruxolitinib 1µM</text>
<rect x="99.85" y="261.40" width="9.20" height="16.20" fill="#e06a22" stroke="#1a1a1a" stroke-width="1.25"/>
<line x1="104.45" y1="261.40" x2="104.45" y2="259.60" stroke="#1a1a1a" stroke-width="1.4"/>
<line x1="101.95" y1="259.60" x2="106.95" y2="259.60" stroke="#1a1a1a" stroke-width="1.4"/>
<text x="104.45" y="257.40" font-size="5.2" text-anchor="middle" stroke="#1a1a1a" stroke-width="0.22">***</text>
<line x1="104.45" y1="277.60" x2="104.45" y2="279.60" stroke="#1a1a1a" stroke-width="0.9"/>
<text x="105.05" y="285.20" font-size="6.2" text-anchor="end" stroke="#1a1a1a" stroke-width="0.22" transform="rotate(-45 105.05 285.20)">Ruxolitinib 5µM</text>
<rect x="113.42" y="260.95" width="9.20" height="16.65" fill="#e51a14" stroke="#1a1a1a" stroke-width="1.25"/>
<text x="118.02" y="258.53" font-size="5.2" text-anchor="middle" stroke="#1a1a1a" stroke-width="0.22">***</text>
<line x1="118.02" y1="277.60" x2="118.02" y2="279.60" stroke="#1a1a1a" stroke-width="0.9"/>
<text x="118.62" y="285.20" font-size="6.2" text-anchor="end" stroke="#1a1a1a" stroke-width="0.22" transform="rotate(-45 118.62 285.20)">Ruxolitinib 10µM</text>
<rect x="126.99" y="247.00" width="9.20" height="30.60" fill="#6464f2" stroke="#1a1a1a" stroke-width="1.25"/>
<line x1="131.59" y1="247.00" x2="131.59" y2="239.58" stroke="#1a1a1a" stroke-width="1.4"/>
<line x1="129.09" y1="239.58" x2="134.09" y2="239.58" stroke="#1a1a1a" stroke-width="1.4"/>
<text x="131.59" y="237.38" font-size="5.2" text-anchor="middle" stroke="#1a1a1a" stroke-width="0.22">***</text>
<line x1="131.59" y1="277.60" x2="131.59" y2="279.60" stroke="#1a1a1a" stroke-width="0.9"/>
<text x="132.19" y="285.20" font-size="6.2" text-anchor="end" stroke="#1a1a1a" stroke-width="0.22" transform="rotate(-45 132.19 285.20)">Fedratinib 1µM</text>
<rect x="140.56" y="255.10" width="9.20" height="22.50" fill="#1818e6" stroke="#1a1a1a" stroke-width="1.25"/>
<line x1="145.16" y1="255.10" x2="145.16" y2="247.00" stroke="#1a1a1a" stroke-width="1.4"/>
<line x1="142.66" y1="247.00" x2="147.66" y2="247.00" stroke="#1a1a1a" stroke-width="1.4"/>
<text x="145.16" y="244.80" font-size="5.2" text-anchor="middle" stroke="#1a1a1a" stroke-width="0.22">***</text>
<line x1="145.16" y1="277.60" x2="145.16" y2="279.60" stroke="#1a1a1a" stroke-width="0.9"/>
<text x="145.76" y="285.20" font-size="6.2" text-anchor="end" stroke="#1a1a1a" stroke-width="0.22" transform="rotate(-45 145.76 285.20)">Fedratinib 5µM</text>
<rect x="154.13" y="264.55" width="9.20" height="13.05" fill="#1414a0" stroke="#1a1a1a" stroke-width="1.25"/>
<line x1="158.73" y1="264.55" x2="158.73" y2="260.73" stroke="#1a1a1a" stroke-width="1.4"/>
<line x1="156.23" y1="260.73" x2="161.23" y2="260.73" stroke="#1a1a1a" stroke-width="1.4"/>
<text x="158.73" y="258.53" font-size="5.2" text-anchor="middle" stroke="#1a1a1a" stroke-width="0.22">***</text>
<line x1="158.73" y1="277.60" x2="158.73" y2="279.60" stroke="#1a1a1a" stroke-width="0.9"/>
<text x="159.33" y="285.20" font-size="6.2" text-anchor="end" stroke="#1a1a1a" stroke-width="0.22" transform="rotate(-45 159.33 285.20)">Fedratinib 10µM</text>
<text x="169.30" y="176.40" font-size="11.6" fill="#000" font-weight="bold">D</text>
<line x1="194.70" y1="179.80" x2="323.50" y2="179.80" stroke="#1a1a1a" stroke-width="1.5"/>
<text x="258.90" y="176.70" font-size="8.1" text-anchor="middle" stroke="#1a1a1a" stroke-width="0.22">24h treatment</text>
<line x1="193.00" y1="186.60" x2="193.00" y2="277.50" stroke="#1a1a1a" stroke-width="1.2"/>
<line x1="192.40" y1="276.90" x2="324.50" y2="276.90" stroke="#1a1a1a" stroke-width="1.2"/>
<line x1="191.00" y1="276.90" x2="193.00" y2="276.90" stroke="#1a1a1a" stroke-width="1"/>
<text x="191.60" y="278.90" font-size="5.7" text-anchor="end" stroke="#1a1a1a" stroke-width="0.22">0</text>
<line x1="191.00" y1="254.47" x2="193.00" y2="254.47" stroke="#1a1a1a" stroke-width="1"/>
<text x="191.60" y="256.47" font-size="5.7" text-anchor="end" stroke="#1a1a1a" stroke-width="0.22">25</text>
<line x1="191.00" y1="232.05" x2="193.00" y2="232.05" stroke="#1a1a1a" stroke-width="1"/>
<text x="191.60" y="234.05" font-size="5.7" text-anchor="end" stroke="#1a1a1a" stroke-width="0.22">50</text>
<line x1="191.00" y1="209.62" x2="193.00" y2="209.62" stroke="#1a1a1a" stroke-width="1"/>
<text x="191.60" y="211.62" font-size="5.7" text-anchor="end" stroke="#1a1a1a" stroke-width="0.22">75</text>
<line x1="191.00" y1="187.20" x2="193.00" y2="187.20" stroke="#1a1a1a" stroke-width="1"/>
<text x="191.60" y="189.20" font-size="5.7" text-anchor="end" stroke="#1a1a1a" stroke-width="0.22">100</text>
<rect x="195.30" y="187.20" width="11.30" height="89.70" fill="#7e7e7e" stroke="#1a1a1a" stroke-width="1"/>
<rect x="195.30" y="200.39" width="11.30" height="76.51" fill="#d6d6d6" stroke="#1a1a1a" stroke-width="1"/>
<rect x="195.30" y="202.09" width="11.30" height="74.81" fill="#ffffff" stroke="#1a1a1a" stroke-width="1"/>
<line x1="200.95" y1="202.09" x2="200.95" y2="205.14" stroke="#1a1a1a" stroke-width="1.2"/>
<line x1="199.05" y1="202.09" x2="202.85" y2="202.09" stroke="#1a1a1a" stroke-width="1.2"/>
<line x1="199.05" y1="205.14" x2="202.85" y2="205.14" stroke="#1a1a1a" stroke-width="1.2"/>
<line x1="200.95" y1="187.20" x2="200.95" y2="189.17" stroke="#1a1a1a" stroke-width="1.2"/>
<line x1="199.05" y1="187.20" x2="202.85" y2="187.20" stroke="#1a1a1a" stroke-width="1.2"/>
<line x1="199.05" y1="189.17" x2="202.85" y2="189.17" stroke="#1a1a1a" stroke-width="1.2"/>
<line x1="200.95" y1="276.90" x2="200.95" y2="278.90" stroke="#1a1a1a" stroke-width="0.9"/>
<text x="201.55" y="284.30" font-size="6.2" text-anchor="end" stroke="#1a1a1a" stroke-width="0.22" transform="rotate(-45 201.55 284.30)">Untreated</text>
<rect x="212.20" y="187.20" width="11.30" height="89.70" fill="#7e7e7e" stroke="#1a1a1a" stroke-width="1"/>
<rect x="212.20" y="200.39" width="11.30" height="76.51" fill="#d6d6d6" stroke="#1a1a1a" stroke-width="1"/>
<rect x="212.20" y="202.09" width="11.30" height="74.81" fill="#ffffff" stroke="#1a1a1a" stroke-width="1"/>
<line x1="217.85" y1="202.09" x2="217.85" y2="205.14" stroke="#1a1a1a" stroke-width="1.2"/>
<line x1="215.95" y1="202.09" x2="219.75" y2="202.09" stroke="#1a1a1a" stroke-width="1.2"/>
<line x1="215.95" y1="205.14" x2="219.75" y2="205.14" stroke="#1a1a1a" stroke-width="1.2"/>
<line x1="217.85" y1="187.20" x2="217.85" y2="189.17" stroke="#1a1a1a" stroke-width="1.2"/>
<line x1="215.95" y1="187.20" x2="219.75" y2="187.20" stroke="#1a1a1a" stroke-width="1.2"/>
<line x1="215.95" y1="189.17" x2="219.75" y2="189.17" stroke="#1a1a1a" stroke-width="1.2"/>
<line x1="217.85" y1="276.90" x2="217.85" y2="278.90" stroke="#1a1a1a" stroke-width="0.9"/>
<text x="218.45" y="284.30" font-size="6.2" text-anchor="end" stroke="#1a1a1a" stroke-width="0.22" transform="rotate(-45 218.45 284.30)">DMSO</text>
<rect x="229.10" y="187.20" width="11.30" height="89.70" fill="#7e7e7e" stroke="#1a1a1a" stroke-width="1"/>
<rect x="229.10" y="222.09" width="11.30" height="54.81" fill="#d6d6d6" stroke="#1a1a1a" stroke-width="1"/>
<rect x="229.10" y="228.19" width="11.30" height="48.71" fill="#ffffff" stroke="#1a1a1a" stroke-width="1"/>
<line x1="234.75" y1="228.19" x2="234.75" y2="236.89" stroke="#1a1a1a" stroke-width="1.2"/>
<line x1="232.85" y1="228.19" x2="236.65" y2="228.19" stroke="#1a1a1a" stroke-width="1.2"/>
<line x1="232.85" y1="236.89" x2="236.65" y2="236.89" stroke="#1a1a1a" stroke-width="1.2"/>
<line x1="234.75" y1="187.20" x2="234.75" y2="193.75" stroke="#1a1a1a" stroke-width="1.2"/>
<line x1="232.85" y1="187.20" x2="236.65" y2="187.20" stroke="#1a1a1a" stroke-width="1.2"/>
<line x1="232.85" y1="193.75" x2="236.65" y2="193.75" stroke="#1a1a1a" stroke-width="1.2"/>
<line x1="234.75" y1="222.29" x2="234.75" y2="224.07" stroke="#1a1a1a" stroke-width="1.1"/>
<line x1="233.15" y1="222.29" x2="236.35" y2="222.29" stroke="#1a1a1a" stroke-width="1.1"/>
<line x1="233.15" y1="224.07" x2="236.35" y2="224.07" stroke="#1a1a1a" stroke-width="1.1"/>
<line x1="234.75" y1="276.90" x2="234.75" y2="278.90" stroke="#1a1a1a" stroke-width="0.9"/>
<text x="235.35" y="284.30" font-size="6.2" text-anchor="end" stroke="#1a1a1a" stroke-width="0.22" transform="rotate(-45 235.35 284.30)">Ruxolitinib 1µM</text>
<rect x="246.00" y="187.20" width="11.30" height="89.70" fill="#7e7e7e" stroke="#1a1a1a" stroke-width="1"/>
<rect x="246.00" y="231.15" width="11.30" height="45.75" fill="#d6d6d6" stroke="#1a1a1a" stroke-width="1"/>
<rect x="246.00" y="240.57" width="11.30" height="36.33" fill="#ffffff" stroke="#1a1a1a" stroke-width="1"/>
<line x1="251.65" y1="240.57" x2="251.65" y2="246.67" stroke="#1a1a1a" stroke-width="1.2"/>
<line x1="249.75" y1="240.57" x2="253.55" y2="240.57" stroke="#1a1a1a" stroke-width="1.2"/>
<line x1="249.75" y1="246.67" x2="253.55" y2="246.67" stroke="#1a1a1a" stroke-width="1.2"/>
<line x1="251.65" y1="187.20" x2="251.65" y2="194.02" stroke="#1a1a1a" stroke-width="1.2"/>
<line x1="249.75" y1="187.20" x2="253.55" y2="187.20" stroke="#1a1a1a" stroke-width="1.2"/>
<line x1="249.75" y1="194.02" x2="253.55" y2="194.02" stroke="#1a1a1a" stroke-width="1.2"/>
<line x1="251.65" y1="231.35" x2="251.65" y2="233.13" stroke="#1a1a1a" stroke-width="1.1"/>
<line x1="250.05" y1="231.35" x2="253.25" y2="231.35" stroke="#1a1a1a" stroke-width="1.1"/>
<line x1="250.05" y1="233.13" x2="253.25" y2="233.13" stroke="#1a1a1a" stroke-width="1.1"/>
<line x1="251.65" y1="276.90" x2="251.65" y2="278.90" stroke="#1a1a1a" stroke-width="0.9"/>
<text x="252.25" y="284.30" font-size="6.2" text-anchor="end" stroke="#1a1a1a" stroke-width="0.22" transform="rotate(-45 252.25 284.30)">Ruxolitinib 5µM</text>
<rect x="262.90" y="187.20" width="11.30" height="89.70" fill="#7e7e7e" stroke="#1a1a1a" stroke-width="1"/>
<rect x="262.90" y="231.78" width="11.30" height="45.12" fill="#d6d6d6" stroke="#1a1a1a" stroke-width="1"/>
<rect x="262.90" y="242.10" width="11.30" height="34.80" fill="#ffffff" stroke="#1a1a1a" stroke-width="1"/>
<line x1="268.55" y1="242.10" x2="268.55" y2="249.27" stroke="#1a1a1a" stroke-width="1.2"/>
<line x1="266.65" y1="242.10" x2="270.45" y2="242.10" stroke="#1a1a1a" stroke-width="1.2"/>
<line x1="266.65" y1="249.27" x2="270.45" y2="249.27" stroke="#1a1a1a" stroke-width="1.2"/>
<line x1="268.55" y1="187.20" x2="268.55" y2="195.27" stroke="#1a1a1a" stroke-width="1.2"/>
<line x1="266.65" y1="187.20" x2="270.45" y2="187.20" stroke="#1a1a1a" stroke-width="1.2"/>
<line x1="266.65" y1="195.27" x2="270.45" y2="195.27" stroke="#1a1a1a" stroke-width="1.2"/>
<line x1="268.55" y1="231.98" x2="268.55" y2="233.75" stroke="#1a1a1a" stroke-width="1.1"/>
<line x1="266.95" y1="231.98" x2="270.15" y2="231.98" stroke="#1a1a1a" stroke-width="1.1"/>
<line x1="266.95" y1="233.75" x2="270.15" y2="233.75" stroke="#1a1a1a" stroke-width="1.1"/>
<line x1="268.55" y1="276.90" x2="268.55" y2="278.90" stroke="#1a1a1a" stroke-width="0.9"/>
<text x="269.15" y="284.30" font-size="6.2" text-anchor="end" stroke="#1a1a1a" stroke-width="0.22" transform="rotate(-45 269.15 284.30)">Ruxolitinib 10µM</text>
<rect x="279.80" y="187.20" width="11.30" height="89.70" fill="#7e7e7e" stroke="#1a1a1a" stroke-width="1"/>
<rect x="279.80" y="206.22" width="11.30" height="70.68" fill="#d6d6d6" stroke="#1a1a1a" stroke-width="1"/>
<rect x="279.80" y="208.19" width="11.30" height="68.71" fill="#ffffff" stroke="#1a1a1a" stroke-width="1"/>
<line x1="285.45" y1="208.19" x2="285.45" y2="212.32" stroke="#1a1a1a" stroke-width="1.2"/>
<line x1="283.55" y1="208.19" x2="287.35" y2="208.19" stroke="#1a1a1a" stroke-width="1.2"/>
<line x1="283.55" y1="212.32" x2="287.35" y2="212.32" stroke="#1a1a1a" stroke-width="1.2"/>
<line x1="285.45" y1="187.20" x2="285.45" y2="191.24" stroke="#1a1a1a" stroke-width="1.2"/>
<line x1="283.55" y1="187.20" x2="287.35" y2="187.20" stroke="#1a1a1a" stroke-width="1.2"/>
<line x1="283.55" y1="191.24" x2="287.35" y2="191.24" stroke="#1a1a1a" stroke-width="1.2"/>
<line x1="285.45" y1="276.90" x2="285.45" y2="278.90" stroke="#1a1a1a" stroke-width="0.9"/>
<text x="286.05" y="284.30" font-size="6.2" text-anchor="end" stroke="#1a1a1a" stroke-width="0.22" transform="rotate(-45 286.05 284.30)">Fedratinib 1µM</text>
<rect x="296.70" y="187.20" width="11.30" height="89.70" fill="#7e7e7e" stroke="#1a1a1a" stroke-width="1"/>
<rect x="296.70" y="257.17" width="11.30" height="19.73" fill="#d6d6d6" stroke="#1a1a1a" stroke-width="1"/>
<rect x="296.70" y="262.73" width="11.30" height="14.17" fill="#ffffff" stroke="#1a1a1a" stroke-width="1"/>
<line x1="302.35" y1="262.73" x2="302.35" y2="271.61" stroke="#1a1a1a" stroke-width="1.2"/>
<line x1="300.45" y1="262.73" x2="304.25" y2="262.73" stroke="#1a1a1a" stroke-width="1.2"/>
<line x1="300.45" y1="271.61" x2="304.25" y2="271.61" stroke="#1a1a1a" stroke-width="1.2"/>
<line x1="302.35" y1="187.20" x2="302.35" y2="196.89" stroke="#1a1a1a" stroke-width="1.2"/>
<line x1="300.45" y1="187.20" x2="304.25" y2="187.20" stroke="#1a1a1a" stroke-width="1.2"/>
<line x1="300.45" y1="196.89" x2="304.25" y2="196.89" stroke="#1a1a1a" stroke-width="1.2"/>
<line x1="302.35" y1="257.37" x2="302.35" y2="259.14" stroke="#1a1a1a" stroke-width="1.1"/>
<line x1="300.75" y1="257.37" x2="303.95" y2="257.37" stroke="#1a1a1a" stroke-width="1.1"/>
<line x1="300.75" y1="259.14" x2="303.95" y2="259.14" stroke="#1a1a1a" stroke-width="1.1"/>
<line x1="302.35" y1="276.90" x2="302.35" y2="278.90" stroke="#1a1a1a" stroke-width="0.9"/>
<text x="302.95" y="284.30" font-size="6.2" text-anchor="end" stroke="#1a1a1a" stroke-width="0.22" transform="rotate(-45 302.95 284.30)">Fedratinib 5µM</text>
<rect x="313.60" y="187.20" width="11.30" height="89.70" fill="#7e7e7e" stroke="#1a1a1a" stroke-width="1"/>
<rect x="313.60" y="271.61" width="11.30" height="5.29" fill="#d6d6d6" stroke="#1a1a1a" stroke-width="1"/>
<rect x="313.60" y="273.58" width="11.30" height="3.32" fill="#ffffff" stroke="#1a1a1a" stroke-width="1"/>
<line x1="319.25" y1="273.58" x2="319.25" y2="275.82" stroke="#1a1a1a" stroke-width="1.2"/>
<line x1="317.35" y1="273.58" x2="321.15" y2="273.58" stroke="#1a1a1a" stroke-width="1.2"/>
<line x1="317.35" y1="275.82" x2="321.15" y2="275.82" stroke="#1a1a1a" stroke-width="1.2"/>
<line x1="319.25" y1="187.20" x2="319.25" y2="193.75" stroke="#1a1a1a" stroke-width="1.2"/>
<line x1="317.35" y1="187.20" x2="321.15" y2="187.20" stroke="#1a1a1a" stroke-width="1.2"/>
<line x1="317.35" y1="193.75" x2="321.15" y2="193.75" stroke="#1a1a1a" stroke-width="1.2"/>
<line x1="319.25" y1="276.90" x2="319.25" y2="278.90" stroke="#1a1a1a" stroke-width="0.9"/>
<text x="319.85" y="284.30" font-size="6.2" text-anchor="end" stroke="#1a1a1a" stroke-width="0.22" transform="rotate(-45 319.85 284.30)">Fedratinib 10µM</text>
<line x1="347.50" y1="179.80" x2="477.30" y2="179.80" stroke="#1a1a1a" stroke-width="1.5"/>
<text x="412.20" y="176.70" font-size="8.1" text-anchor="middle" stroke="#1a1a1a" stroke-width="0.22">48h treatment</text>
<line x1="348.90" y1="186.00" x2="348.90" y2="277.50" stroke="#1a1a1a" stroke-width="1.2"/>
<line x1="348.30" y1="276.90" x2="483.00" y2="276.90" stroke="#1a1a1a" stroke-width="1.2"/>
<line x1="346.90" y1="276.90" x2="348.90" y2="276.90" stroke="#1a1a1a" stroke-width="1"/>
<text x="347.50" y="278.90" font-size="5.7" text-anchor="end" stroke="#1a1a1a" stroke-width="0.22">0</text>
<line x1="346.90" y1="254.32" x2="348.90" y2="254.32" stroke="#1a1a1a" stroke-width="1"/>
<text x="347.50" y="256.32" font-size="5.7" text-anchor="end" stroke="#1a1a1a" stroke-width="0.22">25</text>
<line x1="346.90" y1="231.75" x2="348.90" y2="231.75" stroke="#1a1a1a" stroke-width="1"/>
<text x="347.50" y="233.75" font-size="5.7" text-anchor="end" stroke="#1a1a1a" stroke-width="0.22">50</text>
<line x1="346.90" y1="209.17" x2="348.90" y2="209.17" stroke="#1a1a1a" stroke-width="1"/>
<text x="347.50" y="211.17" font-size="5.7" text-anchor="end" stroke="#1a1a1a" stroke-width="0.22">75</text>
<line x1="346.90" y1="186.60" x2="348.90" y2="186.60" stroke="#1a1a1a" stroke-width="1"/>
<text x="347.50" y="188.60" font-size="5.7" text-anchor="end" stroke="#1a1a1a" stroke-width="0.22">100</text>
<rect x="350.50" y="186.60" width="11.40" height="90.30" fill="#7e7e7e" stroke="#1a1a1a" stroke-width="1"/>
<rect x="350.50" y="201.05" width="11.40" height="75.85" fill="#d6d6d6" stroke="#1a1a1a" stroke-width="1"/>
<rect x="350.50" y="203.22" width="11.40" height="73.68" fill="#ffffff" stroke="#1a1a1a" stroke-width="1"/>
<line x1="356.20" y1="203.22" x2="356.20" y2="205.29" stroke="#1a1a1a" stroke-width="1.2"/>
<line x1="354.30" y1="203.22" x2="358.10" y2="203.22" stroke="#1a1a1a" stroke-width="1.2"/>
<line x1="354.30" y1="205.29" x2="358.10" y2="205.29" stroke="#1a1a1a" stroke-width="1.2"/>
<line x1="356.20" y1="186.60" x2="356.20" y2="188.59" stroke="#1a1a1a" stroke-width="1.2"/>
<line x1="354.30" y1="186.60" x2="358.10" y2="186.60" stroke="#1a1a1a" stroke-width="1.2"/>
<line x1="354.30" y1="188.59" x2="358.10" y2="188.59" stroke="#1a1a1a" stroke-width="1.2"/>
<line x1="356.20" y1="276.90" x2="356.20" y2="278.90" stroke="#1a1a1a" stroke-width="0.9"/>
<text x="356.80" y="284.30" font-size="6.2" text-anchor="end" stroke="#1a1a1a" stroke-width="0.22" transform="rotate(-45 356.80 284.30)">Untreated</text>
<rect x="367.48" y="186.60" width="11.40" height="90.30" fill="#7e7e7e" stroke="#1a1a1a" stroke-width="1"/>
<rect x="367.48" y="200.51" width="11.40" height="76.39" fill="#d6d6d6" stroke="#1a1a1a" stroke-width="1"/>
<rect x="367.48" y="202.58" width="11.40" height="74.32" fill="#ffffff" stroke="#1a1a1a" stroke-width="1"/>
<line x1="373.18" y1="202.58" x2="373.18" y2="204.93" stroke="#1a1a1a" stroke-width="1.2"/>
<line x1="371.28" y1="202.58" x2="375.08" y2="202.58" stroke="#1a1a1a" stroke-width="1.2"/>
<line x1="371.28" y1="204.93" x2="375.08" y2="204.93" stroke="#1a1a1a" stroke-width="1.2"/>
<line x1="373.18" y1="186.60" x2="373.18" y2="188.23" stroke="#1a1a1a" stroke-width="1.2"/>
<line x1="371.28" y1="186.60" x2="375.08" y2="186.60" stroke="#1a1a1a" stroke-width="1.2"/>
<line x1="371.28" y1="188.23" x2="375.08" y2="188.23" stroke="#1a1a1a" stroke-width="1.2"/>
<line x1="373.18" y1="276.90" x2="373.18" y2="278.90" stroke="#1a1a1a" stroke-width="0.9"/>
<text x="373.78" y="284.30" font-size="6.2" text-anchor="end" stroke="#1a1a1a" stroke-width="0.22" transform="rotate(-45 373.78 284.30)">DMSO</text>
<rect x="384.46" y="186.60" width="11.40" height="90.30" fill="#7e7e7e" stroke="#1a1a1a" stroke-width="1"/>
<rect x="384.46" y="245.11" width="11.40" height="31.79" fill="#d6d6d6" stroke="#1a1a1a" stroke-width="1"/>
<rect x="384.46" y="251.16" width="11.40" height="25.74" fill="#ffffff" stroke="#1a1a1a" stroke-width="1"/>
<line x1="390.16" y1="251.16" x2="390.16" y2="262.45" stroke="#1a1a1a" stroke-width="1.2"/>
<line x1="388.26" y1="251.16" x2="392.06" y2="251.16" stroke="#1a1a1a" stroke-width="1.2"/>
<line x1="388.26" y1="262.45" x2="392.06" y2="262.45" stroke="#1a1a1a" stroke-width="1.2"/>
<line x1="390.16" y1="186.60" x2="390.16" y2="196.89" stroke="#1a1a1a" stroke-width="1.2"/>
<line x1="388.26" y1="186.60" x2="392.06" y2="186.60" stroke="#1a1a1a" stroke-width="1.2"/>
<line x1="388.26" y1="196.89" x2="392.06" y2="196.89" stroke="#1a1a1a" stroke-width="1.2"/>
<line x1="390.16" y1="245.31" x2="390.16" y2="247.10" stroke="#1a1a1a" stroke-width="1.1"/>
<line x1="388.56" y1="245.31" x2="391.76" y2="245.31" stroke="#1a1a1a" stroke-width="1.1"/>
<line x1="388.56" y1="247.10" x2="391.76" y2="247.10" stroke="#1a1a1a" stroke-width="1.1"/>
<line x1="390.16" y1="276.90" x2="390.16" y2="278.90" stroke="#1a1a1a" stroke-width="0.9"/>
<text x="390.76" y="284.30" font-size="6.2" text-anchor="end" stroke="#1a1a1a" stroke-width="0.22" transform="rotate(-45 390.76 284.30)">Ruxolitinib 1µM</text>
<rect x="401.44" y="186.60" width="11.40" height="90.30" fill="#7e7e7e" stroke="#1a1a1a" stroke-width="1"/>
<rect x="401.44" y="263.63" width="11.40" height="13.27" fill="#d6d6d6" stroke="#1a1a1a" stroke-width="1"/>
<rect x="401.44" y="270.31" width="11.40" height="6.59" fill="#ffffff" stroke="#1a1a1a" stroke-width="1"/>
<line x1="407.14" y1="270.31" x2="407.14" y2="272.84" stroke="#1a1a1a" stroke-width="1.2"/>
<line x1="405.24" y1="270.31" x2="409.04" y2="270.31" stroke="#1a1a1a" stroke-width="1.2"/>
<line x1="405.24" y1="272.84" x2="409.04" y2="272.84" stroke="#1a1a1a" stroke-width="1.2"/>
<line x1="407.14" y1="186.60" x2="407.14" y2="192.74" stroke="#1a1a1a" stroke-width="1.2"/>
<line x1="405.24" y1="186.60" x2="409.04" y2="186.60" stroke="#1a1a1a" stroke-width="1.2"/>
<line x1="405.24" y1="192.74" x2="409.04" y2="192.74" stroke="#1a1a1a" stroke-width="1.2"/>
<line x1="407.14" y1="263.83" x2="407.14" y2="265.61" stroke="#1a1a1a" stroke-width="1.1"/>
<line x1="405.54" y1="263.83" x2="408.74" y2="263.83" stroke="#1a1a1a" stroke-width="1.1"/>
<line x1="405.54" y1="265.61" x2="408.74" y2="265.61" stroke="#1a1a1a" stroke-width="1.1"/>
<line x1="407.14" y1="276.90" x2="407.14" y2="278.90" stroke="#1a1a1a" stroke-width="0.9"/>
<text x="407.74" y="284.30" font-size="6.2" text-anchor="end" stroke="#1a1a1a" stroke-width="0.22" transform="rotate(-45 407.74 284.30)">Ruxolitinib 5µM</text>
<rect x="418.42" y="186.60" width="11.40" height="90.30" fill="#7e7e7e" stroke="#1a1a1a" stroke-width="1"/>
<rect x="418.42" y="266.06" width="11.40" height="10.84" fill="#d6d6d6" stroke="#1a1a1a" stroke-width="1"/>
<rect x="418.42" y="271.84" width="11.40" height="5.06" fill="#ffffff" stroke="#1a1a1a" stroke-width="1"/>
<line x1="424.12" y1="271.84" x2="424.12" y2="274.01" stroke="#1a1a1a" stroke-width="1.2"/>
<line x1="422.22" y1="271.84" x2="426.02" y2="271.84" stroke="#1a1a1a" stroke-width="1.2"/>
<line x1="422.22" y1="274.01" x2="426.02" y2="274.01" stroke="#1a1a1a" stroke-width="1.2"/>
<line x1="424.12" y1="186.60" x2="424.12" y2="191.48" stroke="#1a1a1a" stroke-width="1.2"/>
<line x1="422.22" y1="186.60" x2="426.02" y2="186.60" stroke="#1a1a1a" stroke-width="1.2"/>
<line x1="422.22" y1="191.48" x2="426.02" y2="191.48" stroke="#1a1a1a" stroke-width="1.2"/>
<line x1="424.12" y1="266.26" x2="424.12" y2="268.05" stroke="#1a1a1a" stroke-width="1.1"/>
<line x1="422.52" y1="266.26" x2="425.72" y2="266.26" stroke="#1a1a1a" stroke-width="1.1"/>
<line x1="422.52" y1="268.05" x2="425.72" y2="268.05" stroke="#1a1a1a" stroke-width="1.1"/>
<line x1="424.12" y1="276.90" x2="424.12" y2="278.90" stroke="#1a1a1a" stroke-width="0.9"/>
<text x="424.72" y="284.30" font-size="6.2" text-anchor="end" stroke="#1a1a1a" stroke-width="0.22" transform="rotate(-45 424.72 284.30)">Ruxolitinib 10µM</text>
<rect x="435.40" y="186.60" width="11.40" height="90.30" fill="#7e7e7e" stroke="#1a1a1a" stroke-width="1"/>
<rect x="435.40" y="207.91" width="11.40" height="68.99" fill="#d6d6d6" stroke="#1a1a1a" stroke-width="1"/>
<rect x="435.40" y="210.08" width="11.40" height="66.82" fill="#ffffff" stroke="#1a1a1a" stroke-width="1"/>
<line x1="441.10" y1="210.08" x2="441.10" y2="217.93" stroke="#1a1a1a" stroke-width="1.2"/>
<line x1="439.20" y1="210.08" x2="443.00" y2="210.08" stroke="#1a1a1a" stroke-width="1.2"/>
<line x1="439.20" y1="217.93" x2="443.00" y2="217.93" stroke="#1a1a1a" stroke-width="1.2"/>
<line x1="441.10" y1="186.60" x2="441.10" y2="193.64" stroke="#1a1a1a" stroke-width="1.2"/>
<line x1="439.20" y1="186.60" x2="443.00" y2="186.60" stroke="#1a1a1a" stroke-width="1.2"/>
<line x1="439.20" y1="193.64" x2="443.00" y2="193.64" stroke="#1a1a1a" stroke-width="1.2"/>
<line x1="441.10" y1="276.90" x2="441.10" y2="278.90" stroke="#1a1a1a" stroke-width="0.9"/>
<text x="441.70" y="284.30" font-size="6.2" text-anchor="end" stroke="#1a1a1a" stroke-width="0.22" transform="rotate(-45 441.70 284.30)">Fedratinib 1µM</text>
<rect x="452.38" y="186.60" width="11.40" height="90.30" fill="#7e7e7e" stroke="#1a1a1a" stroke-width="1"/>
<rect x="452.38" y="274.64" width="11.40" height="2.26" fill="#d6d6d6" stroke="#1a1a1a" stroke-width="1"/>
<rect x="452.38" y="276.18" width="11.40" height="0.72" fill="#ffffff" stroke="#1a1a1a" stroke-width="1"/>
<line x1="458.08" y1="276.90" x2="458.08" y2="278.90" stroke="#1a1a1a" stroke-width="0.9"/>
<text x="458.68" y="284.30" font-size="6.2" text-anchor="end" stroke="#1a1a1a" stroke-width="0.22" transform="rotate(-45 458.68 284.30)">Fedratinib 5µM</text>
<rect x="469.36" y="186.60" width="11.40" height="90.30" fill="#7e7e7e" stroke="#1a1a1a" stroke-width="1"/>
<rect x="469.36" y="275.82" width="11.40" height="1.08" fill="#d6d6d6" stroke="#1a1a1a" stroke-width="1"/>
<rect x="469.36" y="276.54" width="11.40" height="0.36" fill="#ffffff" stroke="#1a1a1a" stroke-width="1"/>
<line x1="475.06" y1="276.90" x2="475.06" y2="278.90" stroke="#1a1a1a" stroke-width="0.9"/>
<text x="475.66" y="284.30" font-size="6.2" text-anchor="end" stroke="#1a1a1a" stroke-width="0.22" transform="rotate(-45 475.66 284.30)">Fedratinib 10µM</text>
<text x="177.00" y="230.20" font-size="7" text-anchor="middle" stroke="#1a1a1a" stroke-width="0.22" transform="rotate(-90 177.00 230.20)">% of Cells</text>
<rect x="485.40" y="194.70" width="4.00" height="5.20" fill="#fff" stroke="#1a1a1a" stroke-width="0.9"/>
<text x="492.20" y="199.60" font-size="6.6" stroke="#1a1a1a" stroke-width="0.22">Living</text>
<rect x="485.40" y="204.80" width="4.00" height="5.20" fill="#d6d6d6" stroke="#1a1a1a" stroke-width="0.9"/>
<text x="492.20" y="209.70" font-size="6.6" stroke="#1a1a1a" stroke-width="0.22">Apoptotic</text>
<rect x="485.40" y="214.90" width="4.00" height="5.20" fill="#7e7e7e" stroke="#1a1a1a" stroke-width="0.9"/>
<text x="492.20" y="219.80" font-size="6.6" stroke="#1a1a1a" stroke-width="0.22">Dead</text>
<text x="0.40" y="334.80" font-size="11.6" fill="#000" font-weight="bold">E</text>
<line x1="27.10" y1="348.30" x2="27.10" y2="428.90" stroke="#1a1a1a" stroke-width="1.2"/>
<line x1="26.50" y1="428.30" x2="88.00" y2="428.30" stroke="#1a1a1a" stroke-width="1.2"/>
<line x1="25.10" y1="428.30" x2="27.10" y2="428.30" stroke="#1a1a1a" stroke-width="1"/>
<text x="25.80" y="430.50" font-size="6.2" text-anchor="end" stroke="#1a1a1a" stroke-width="0.22">0</text>
<line x1="25.10" y1="408.45" x2="27.10" y2="408.45" stroke="#1a1a1a" stroke-width="1"/>
<text x="25.80" y="410.65" font-size="6.2" text-anchor="end" stroke="#1a1a1a" stroke-width="0.22">1000</text>
<line x1="25.10" y1="388.60" x2="27.10" y2="388.60" stroke="#1a1a1a" stroke-width="1"/>
<text x="25.80" y="390.80" font-size="6.2" text-anchor="end" stroke="#1a1a1a" stroke-width="0.22">2000</text>
<line x1="25.10" y1="368.75" x2="27.10" y2="368.75" stroke="#1a1a1a" stroke-width="1"/>
<text x="25.80" y="370.95" font-size="6.2" text-anchor="end" stroke="#1a1a1a" stroke-width="0.22">3000</text>
<line x1="25.10" y1="348.90" x2="27.10" y2="348.90" stroke="#1a1a1a" stroke-width="1"/>
<text x="25.80" y="351.10" font-size="6.2" text-anchor="end" stroke="#1a1a1a" stroke-width="0.22">4000</text>
<text x="45.10" y="340.90" font-size="6.6" text-anchor="middle" font-style="italic" stroke="#1a1a1a" stroke-width="0.22">Socs1</text>
<text x="7.60" y="386.90" font-size="6.0" text-anchor="middle" stroke="#1a1a1a" stroke-width="0.22" transform="rotate(-90 7.60 386.90)">Rel. Expression</text>
<line x1="40.80" y1="428.30" x2="40.80" y2="430.30" stroke="#1a1a1a" stroke-width="0.9"/>
<text x="42.20" y="435.30" font-size="6.0" text-anchor="end" stroke="#1a1a1a" stroke-width="0.22" transform="rotate(-45 42.20 435.30)">luc</text>
<rect x="61.00" y="376.29" width="20.00" height="52.01" fill="#fff" stroke="#1a1a1a" stroke-width="1.5"/>
<line x1="71.00" y1="358.43" x2="71.00" y2="393.76" stroke="#1a1a1a" stroke-width="1.5"/>
<line x1="67.20" y1="358.43" x2="74.80" y2="358.43" stroke="#1a1a1a" stroke-width="1.5"/>
<line x1="67.20" y1="393.76" x2="74.80" y2="393.76" stroke="#1a1a1a" stroke-width="1.5"/>
<line x1="71.00" y1="428.30" x2="71.00" y2="430.30" stroke="#1a1a1a" stroke-width="0.9"/>
<text x="72.40" y="435.30" font-size="6.0" text-anchor="end" stroke="#1a1a1a" stroke-width="0.22" transform="rotate(-45 72.40 435.30)">PAX5-JAK2</text>
<text x="71.00" y="356.10" font-size="6.0" text-anchor="middle" stroke="#1a1a1a" stroke-width="0.22">***</text>
<line x1="115.90" y1="348.70" x2="115.90" y2="428.90" stroke="#1a1a1a" stroke-width="1.2"/>
<line x1="115.30" y1="428.30" x2="173.70" y2="428.30" stroke="#1a1a1a" stroke-width="1.2"/>
<line x1="113.90" y1="428.30" x2="115.90" y2="428.30" stroke="#1a1a1a" stroke-width="1"/>
<text x="114.60" y="430.50" font-size="6.2" text-anchor="end" stroke="#1a1a1a" stroke-width="0.22">0</text>
<line x1="113.90" y1="408.55" x2="115.90" y2="408.55" stroke="#1a1a1a" stroke-width="1"/>
<text x="114.60" y="410.75" font-size="6.2" text-anchor="end" stroke="#1a1a1a" stroke-width="0.22">10</text>
<line x1="113.90" y1="388.80" x2="115.90" y2="388.80" stroke="#1a1a1a" stroke-width="1"/>
<text x="114.60" y="391.00" font-size="6.2" text-anchor="end" stroke="#1a1a1a" stroke-width="0.22">20</text>
<line x1="113.90" y1="369.05" x2="115.90" y2="369.05" stroke="#1a1a1a" stroke-width="1"/>
<text x="114.60" y="371.25" font-size="6.2" text-anchor="end" stroke="#1a1a1a" stroke-width="0.22">30</text>
<line x1="113.90" y1="349.30" x2="115.90" y2="349.30" stroke="#1a1a1a" stroke-width="1"/>
<text x="114.60" y="351.50" font-size="6.2" text-anchor="end" stroke="#1a1a1a" stroke-width="0.22">40</text>
<text x="133.00" y="340.90" font-size="6.6" text-anchor="middle" font-style="italic" stroke="#1a1a1a" stroke-width="0.22">Cish</text>
<text x="94.80" y="386.90" font-size="6.0" text-anchor="middle" stroke="#1a1a1a" stroke-width="0.22" transform="rotate(-90 94.80 386.90)">Rel. Expression</text>
<rect x="119.50" y="426.32" width="20.20" height="1.98" fill="#fff" stroke="#1a1a1a" stroke-width="1.5"/>
<line x1="129.60" y1="428.30" x2="129.60" y2="430.30" stroke="#1a1a1a" stroke-width="0.9"/>
<text x="131.00" y="435.30" font-size="6.0" text-anchor="end" stroke="#1a1a1a" stroke-width="0.22" transform="rotate(-45 131.00 435.30)">luc</text>
<rect x="148.70" y="387.42" width="19.80" height="40.88" fill="#fff" stroke="#1a1a1a" stroke-width="1.5"/>
<line x1="158.60" y1="369.84" x2="158.60" y2="405.19" stroke="#1a1a1a" stroke-width="1.5"/>
<line x1="154.80" y1="369.84" x2="162.40" y2="369.84" stroke="#1a1a1a" stroke-width="1.5"/>
<line x1="154.80" y1="405.19" x2="162.40" y2="405.19" stroke="#1a1a1a" stroke-width="1.5"/>
<line x1="158.60" y1="428.30" x2="158.60" y2="430.30" stroke="#1a1a1a" stroke-width="0.9"/>
<text x="160.00" y="435.30" font-size="6.0" text-anchor="end" stroke="#1a1a1a" stroke-width="0.22" transform="rotate(-45 160.00 435.30)">PAX5-JAK2</text>
<text x="158.50" y="365.90" font-size="6.0" text-anchor="middle" stroke="#1a1a1a" stroke-width="0.22">**</text>
<line x1="26.10" y1="479.40" x2="26.10" y2="554.00" stroke="#1a1a1a" stroke-width="1.2"/>
<line x1="25.50" y1="553.40" x2="79.00" y2="553.40" stroke="#1a1a1a" stroke-width="1.2"/>
<line x1="24.10" y1="553.40" x2="26.10" y2="553.40" stroke="#1a1a1a" stroke-width="1"/>
<text x="24.80" y="555.60" font-size="6.2" text-anchor="end" stroke="#1a1a1a" stroke-width="0.22">0</text>
<line x1="24.10" y1="535.05" x2="26.10" y2="535.05" stroke="#1a1a1a" stroke-width="1"/>
<text x="24.80" y="537.25" font-size="6.2" text-anchor="end" stroke="#1a1a1a" stroke-width="0.22">5</text>
<line x1="24.10" y1="516.70" x2="26.10" y2="516.70" stroke="#1a1a1a" stroke-width="1"/>
<text x="24.80" y="518.90" font-size="6.2" text-anchor="end" stroke="#1a1a1a" stroke-width="0.22">10</text>
<line x1="24.10" y1="498.35" x2="26.10" y2="498.35" stroke="#1a1a1a" stroke-width="1"/>
<text x="24.80" y="500.55" font-size="6.2" text-anchor="end" stroke="#1a1a1a" stroke-width="0.22">15</text>
<line x1="24.10" y1="480.00" x2="26.10" y2="480.00" stroke="#1a1a1a" stroke-width="1"/>
<text x="24.80" y="482.20" font-size="6.2" text-anchor="end" stroke="#1a1a1a" stroke-width="0.22">20</text>
<text x="41.10" y="472.90" font-size="6.6" text-anchor="middle" font-style="italic" stroke="#1a1a1a" stroke-width="0.22">Pim1</text>
<text x="6.20" y="514.70" font-size="6.0" text-anchor="middle" stroke="#1a1a1a" stroke-width="0.22" transform="rotate(-90 6.20 514.70)">Rel. Expression</text>
<rect x="29.40" y="549.91" width="18.10" height="3.49" fill="#fff" stroke="#1a1a1a" stroke-width="1.5"/>
<line x1="38.45" y1="553.40" x2="38.45" y2="555.40" stroke="#1a1a1a" stroke-width="0.9"/>
<text x="39.85" y="560.40" font-size="6.0" text-anchor="end" stroke="#1a1a1a" stroke-width="0.22" transform="rotate(-45 39.85 560.40)">luc</text>
<rect x="56.40" y="506.06" width="18.30" height="47.34" fill="#fff" stroke="#1a1a1a" stroke-width="1.5"/>
<line x1="65.55" y1="489.91" x2="65.55" y2="522.20" stroke="#1a1a1a" stroke-width="1.5"/>
<line x1="61.75" y1="489.91" x2="69.35" y2="489.91" stroke="#1a1a1a" stroke-width="1.5"/>
<line x1="61.75" y1="522.20" x2="69.35" y2="522.20" stroke="#1a1a1a" stroke-width="1.5"/>
<line x1="65.55" y1="553.40" x2="65.55" y2="555.40" stroke="#1a1a1a" stroke-width="0.9"/>
<text x="66.95" y="560.40" font-size="6.0" text-anchor="end" stroke="#1a1a1a" stroke-width="0.22" transform="rotate(-45 66.95 560.40)">PAX5-JAK2</text>
<text x="65.20" y="486.70" font-size="6.0" text-anchor="middle" stroke="#1a1a1a" stroke-width="0.22">**</text>
<line x1="112.60" y1="479.40" x2="112.60" y2="554.00" stroke="#1a1a1a" stroke-width="1.2"/>
<line x1="112.00" y1="553.40" x2="164.00" y2="553.40" stroke="#1a1a1a" stroke-width="1.2"/>
<line x1="110.60" y1="553.40" x2="112.60" y2="553.40" stroke="#1a1a1a" stroke-width="1"/>
<text x="111.30" y="555.60" font-size="6.2" text-anchor="end" stroke="#1a1a1a" stroke-width="0.22">0</text>
<line x1="110.60" y1="535.05" x2="112.60" y2="535.05" stroke="#1a1a1a" stroke-width="1"/>
<text x="111.30" y="537.25" font-size="6.2" text-anchor="end" stroke="#1a1a1a" stroke-width="0.22">10</text>
<line x1="110.60" y1="516.70" x2="112.60" y2="516.70" stroke="#1a1a1a" stroke-width="1"/>
<text x="111.30" y="518.90" font-size="6.2" text-anchor="end" stroke="#1a1a1a" stroke-width="0.22">20</text>
<line x1="110.60" y1="498.35" x2="112.60" y2="498.35" stroke="#1a1a1a" stroke-width="1"/>
<text x="111.30" y="500.55" font-size="6.2" text-anchor="end" stroke="#1a1a1a" stroke-width="0.22">30</text>
<line x1="110.60" y1="480.00" x2="112.60" y2="480.00" stroke="#1a1a1a" stroke-width="1"/>
<text x="111.30" y="482.20" font-size="6.2" text-anchor="end" stroke="#1a1a1a" stroke-width="0.22">40</text>
<text x="129.10" y="472.90" font-size="6.6" text-anchor="middle" font-style="italic" stroke="#1a1a1a" stroke-width="0.22">Cd79a</text>
<text x="94.80" y="514.70" font-size="6.0" text-anchor="middle" stroke="#1a1a1a" stroke-width="0.22" transform="rotate(-90 94.80 514.70)">Rel. Expression</text>
<rect x="117.10" y="551.66" width="18.30" height="1.74" fill="#fff" stroke="#1a1a1a" stroke-width="1.5"/>
<line x1="126.25" y1="553.40" x2="126.25" y2="555.40" stroke="#1a1a1a" stroke-width="0.9"/>
<text x="127.65" y="560.40" font-size="6.0" text-anchor="end" stroke="#1a1a1a" stroke-width="0.22" transform="rotate(-45 127.65 560.40)">luc</text>
<rect x="144.30" y="519.45" width="18.10" height="33.95" fill="#fff" stroke="#1a1a1a" stroke-width="1.5"/>
<line x1="153.35" y1="497.43" x2="153.35" y2="540.92" stroke="#1a1a1a" stroke-width="1.5"/>
<line x1="149.55" y1="497.43" x2="157.15" y2="497.43" stroke="#1a1a1a" stroke-width="1.5"/>
<line x1="149.55" y1="540.92" x2="157.15" y2="540.92" stroke="#1a1a1a" stroke-width="1.5"/>
<line x1="153.35" y1="553.40" x2="153.35" y2="555.40" stroke="#1a1a1a" stroke-width="0.9"/>
<text x="154.75" y="560.40" font-size="6.0" text-anchor="end" stroke="#1a1a1a" stroke-width="0.22" transform="rotate(-45 154.75 560.40)">PAX5-JAK2</text>
<text x="153.60" y="493.80" font-size="6.0" text-anchor="middle" stroke="#1a1a1a" stroke-width="0.22">*</text>
<text x="188.30" y="334.90" font-size="11.6" fill="#000" font-weight="bold">F</text>
<line x1="213.30" y1="347.80" x2="213.30" y2="419.60" stroke="#1a1a1a" stroke-width="1.2"/>
<line x1="212.70" y1="419.00" x2="319.90" y2="419.00" stroke="#1a1a1a" stroke-width="1.2"/>
<line x1="211.30" y1="419.00" x2="213.30" y2="419.00" stroke="#1a1a1a" stroke-width="1"/>
<text x="212.20" y="421.00" font-size="5.6" text-anchor="end" stroke="#1a1a1a" stroke-width="0.22">0.0</text>
<line x1="211.30" y1="395.47" x2="213.30" y2="395.47" stroke="#1a1a1a" stroke-width="1"/>
<text x="212.20" y="397.47" font-size="5.6" text-anchor="end" stroke="#1a1a1a" stroke-width="0.22">0.5</text>
<line x1="211.30" y1="371.93" x2="213.30" y2="371.93" stroke="#1a1a1a" stroke-width="1"/>
<text x="212.20" y="373.93" font-size="5.6" text-anchor="end" stroke="#1a1a1a" stroke-width="0.22">1.0</text>
<line x1="211.30" y1="348.40" x2="213.30" y2="348.40" stroke="#1a1a1a" stroke-width="1"/>
<text x="212.20" y="350.40" font-size="5.6" text-anchor="end" stroke="#1a1a1a" stroke-width="0.22">1.5</text>
<text x="262.30" y="340.90" font-size="6.6" text-anchor="middle" font-style="italic" stroke="#1a1a1a" stroke-width="0.22">Socs1</text>
<text x="201.70" y="381.50" font-size="5.8" text-anchor="middle" stroke="#1a1a1a" stroke-width="0.22" transform="rotate(-90 201.70 381.50)">Rel. Expression</text>
<rect x="217.40" y="372.50" width="11.50" height="46.50" fill="#747474" stroke="#1a1a1a" stroke-width="1.25"/>
<line x1="223.15" y1="419.00" x2="223.15" y2="421.00" stroke="#1a1a1a" stroke-width="0.9"/>
<text x="224.05" y="425.60" font-size="5.8" text-anchor="end" stroke="#1a1a1a" stroke-width="0.22" transform="rotate(-45 224.05 425.60)">DMSO</text>
<text x="240.55" y="416.00" font-size="5.2" text-anchor="middle" stroke="#1a1a1a" stroke-width="0.22">***</text>
<line x1="240.55" y1="419.00" x2="240.55" y2="421.00" stroke="#1a1a1a" stroke-width="0.9"/>
<text x="241.45" y="425.60" font-size="5.8" text-anchor="end" stroke="#1a1a1a" stroke-width="0.22" transform="rotate(-45 241.45 425.60)">Ruxolitinib 1µM</text>
<text x="258.15" y="416.00" font-size="5.2" text-anchor="middle" stroke="#1a1a1a" stroke-width="0.22">***</text>
<line x1="258.15" y1="419.00" x2="258.15" y2="421.00" stroke="#1a1a1a" stroke-width="0.9"/>
<text x="259.05" y="425.60" font-size="5.8" text-anchor="end" stroke="#1a1a1a" stroke-width="0.22" transform="rotate(-45 259.05 425.60)">Ruxolitinib 5µM</text>
<rect x="269.60" y="407.10" width="12.10" height="11.90" fill="#5a5cf0" stroke="#1a1a1a" stroke-width="1.25"/>
<line x1="275.65" y1="407.10" x2="275.65" y2="406.30" stroke="#1a1a1a" stroke-width="1.4"/>
<line x1="273.05" y1="406.30" x2="278.25" y2="406.30" stroke="#1a1a1a" stroke-width="1.4"/>
<text x="275.65" y="404.50" font-size="5.2" text-anchor="middle" stroke="#1a1a1a" stroke-width="0.22">***</text>
<line x1="275.65" y1="419.00" x2="275.65" y2="421.00" stroke="#1a1a1a" stroke-width="0.9"/>
<text x="276.55" y="425.60" font-size="5.8" text-anchor="end" stroke="#1a1a1a" stroke-width="0.22" transform="rotate(-45 276.55 425.60)">Fedratinib 1µM</text>
<rect x="287.60" y="416.60" width="11.70" height="2.40" fill="#1414e0" stroke="#1a1a1a" stroke-width="1.25"/>
<line x1="293.45" y1="416.60" x2="293.45" y2="415.80" stroke="#1a1a1a" stroke-width="1.4"/>
<line x1="290.85" y1="415.80" x2="296.05" y2="415.80" stroke="#1a1a1a" stroke-width="1.4"/>
<text x="293.45" y="413.80" font-size="5.2" text-anchor="middle" stroke="#1a1a1a" stroke-width="0.22">***</text>
<line x1="293.45" y1="419.00" x2="293.45" y2="421.00" stroke="#1a1a1a" stroke-width="0.9"/>
<text x="294.35" y="425.60" font-size="5.8" text-anchor="end" stroke="#1a1a1a" stroke-width="0.22" transform="rotate(-45 294.35 425.60)">Fedratinib 5µM</text>
<rect x="305.00" y="387.40" width="12.20" height="31.60" fill="#d6d6d6" stroke="#1a1a1a" stroke-width="1.25"/>
<line x1="311.10" y1="387.40" x2="311.10" y2="384.30" stroke="#1a1a1a" stroke-width="1.4"/>
<line x1="308.50" y1="384.30" x2="313.70" y2="384.30" stroke="#1a1a1a" stroke-width="1.4"/>
<text x="311.10" y="382.00" font-size="5.2" text-anchor="middle" stroke="#1a1a1a" stroke-width="0.22">**</text>
<line x1="311.10" y1="419.00" x2="311.10" y2="421.00" stroke="#1a1a1a" stroke-width="0.9"/>
<text x="312.00" y="425.60" font-size="5.8" text-anchor="end" stroke="#1a1a1a" stroke-width="0.22" transform="rotate(-45 312.00 425.60)">Dasatinib 100nM</text>
<line x1="345.40" y1="348.30" x2="345.40" y2="419.60" stroke="#1a1a1a" stroke-width="1.2"/>
<line x1="344.80" y1="419.00" x2="451.80" y2="419.00" stroke="#1a1a1a" stroke-width="1.2"/>
<line x1="343.40" y1="419.00" x2="345.40" y2="419.00" stroke="#1a1a1a" stroke-width="1"/>
<text x="344.30" y="421.00" font-size="5.6" text-anchor="end" stroke="#1a1a1a" stroke-width="0.22">0.0</text>
<line x1="343.40" y1="395.63" x2="345.40" y2="395.63" stroke="#1a1a1a" stroke-width="1"/>
<text x="344.30" y="397.63" font-size="5.6" text-anchor="end" stroke="#1a1a1a" stroke-width="0.22">0.5</text>
<line x1="343.40" y1="372.27" x2="345.40" y2="372.27" stroke="#1a1a1a" stroke-width="1"/>
<text x="344.30" y="374.27" font-size="5.6" text-anchor="end" stroke="#1a1a1a" stroke-width="0.22">1.0</text>
<line x1="343.40" y1="348.90" x2="345.40" y2="348.90" stroke="#1a1a1a" stroke-width="1"/>
<text x="344.30" y="350.90" font-size="5.6" text-anchor="end" stroke="#1a1a1a" stroke-width="0.22">1.5</text>
<text x="393.90" y="340.90" font-size="6.6" text-anchor="middle" font-style="italic" stroke="#1a1a1a" stroke-width="0.22">Cish</text>
<text x="333.30" y="382.10" font-size="5.8" text-anchor="middle" stroke="#1a1a1a" stroke-width="0.22" transform="rotate(-90 333.30 382.10)">Rel. Expression</text>
<rect x="348.40" y="372.20" width="12.10" height="46.80" fill="#747474" stroke="#1a1a1a" stroke-width="1.25"/>
<line x1="354.45" y1="419.00" x2="354.45" y2="421.00" stroke="#1a1a1a" stroke-width="0.9"/>
<text x="355.35" y="425.60" font-size="5.8" text-anchor="end" stroke="#1a1a1a" stroke-width="0.22" transform="rotate(-45 355.35 425.60)">DMSO</text>
<rect x="365.70" y="410.20" width="12.60" height="8.80" fill="#f0a050" stroke="#1a1a1a" stroke-width="1.25"/>
<line x1="372.00" y1="410.20" x2="372.00" y2="406.90" stroke="#1a1a1a" stroke-width="1.4"/>
<line x1="369.40" y1="406.90" x2="374.60" y2="406.90" stroke="#1a1a1a" stroke-width="1.4"/>
<text x="372.00" y="404.20" font-size="5.2" text-anchor="middle" stroke="#1a1a1a" stroke-width="0.22">**</text>
<line x1="372.00" y1="419.00" x2="372.00" y2="421.00" stroke="#1a1a1a" stroke-width="0.9"/>
<text x="372.90" y="425.60" font-size="5.8" text-anchor="end" stroke="#1a1a1a" stroke-width="0.22" transform="rotate(-45 372.90 425.60)">Ruxolitinib 1µM</text>
<rect x="383.50" y="411.00" width="12.50" height="8.00" fill="#e0641e" stroke="#1a1a1a" stroke-width="1.25"/>
<line x1="389.75" y1="411.00" x2="389.75" y2="408.60" stroke="#1a1a1a" stroke-width="1.4"/>
<line x1="387.15" y1="408.60" x2="392.35" y2="408.60" stroke="#1a1a1a" stroke-width="1.4"/>
<text x="389.75" y="406.50" font-size="5.2" text-anchor="middle" stroke="#1a1a1a" stroke-width="0.22">***</text>
<line x1="389.75" y1="419.00" x2="389.75" y2="421.00" stroke="#1a1a1a" stroke-width="0.9"/>
<text x="390.65" y="425.60" font-size="5.8" text-anchor="end" stroke="#1a1a1a" stroke-width="0.22" transform="rotate(-45 390.65 425.60)">Ruxolitinib 5µM</text>
<rect x="401.20" y="395.10" width="12.40" height="23.90" fill="#5a5cf0" stroke="#1a1a1a" stroke-width="1.25"/>
<line x1="407.40" y1="395.10" x2="407.40" y2="391.60" stroke="#1a1a1a" stroke-width="1.4"/>
<line x1="404.80" y1="391.60" x2="410.00" y2="391.60" stroke="#1a1a1a" stroke-width="1.4"/>
<text x="407.40" y="389.50" font-size="5.2" text-anchor="middle" stroke="#1a1a1a" stroke-width="0.22">**</text>
<line x1="407.40" y1="419.00" x2="407.40" y2="421.00" stroke="#1a1a1a" stroke-width="0.9"/>
<text x="408.30" y="425.60" font-size="5.8" text-anchor="end" stroke="#1a1a1a" stroke-width="0.22" transform="rotate(-45 408.30 425.60)">Fedratinib 1µM</text>
<rect x="418.90" y="399.40" width="12.40" height="19.60" fill="#1414e0" stroke="#1a1a1a" stroke-width="1.25"/>
<line x1="425.10" y1="399.40" x2="425.10" y2="395.10" stroke="#1a1a1a" stroke-width="1.4"/>
<line x1="422.50" y1="395.10" x2="427.70" y2="395.10" stroke="#1a1a1a" stroke-width="1.4"/>
<text x="425.10" y="392.60" font-size="5.2" text-anchor="middle" stroke="#1a1a1a" stroke-width="0.22">**</text>
<line x1="425.10" y1="419.00" x2="425.10" y2="421.00" stroke="#1a1a1a" stroke-width="0.9"/>
<text x="426.00" y="425.60" font-size="5.8" text-anchor="end" stroke="#1a1a1a" stroke-width="0.22" transform="rotate(-45 426.00 425.60)">Fedratinib 5µM</text>
<rect x="436.50" y="381.80" width="12.50" height="37.20" fill="#d6d6d6" stroke="#1a1a1a" stroke-width="1.25"/>
<line x1="442.75" y1="381.80" x2="442.75" y2="380.00" stroke="#1a1a1a" stroke-width="1.4"/>
<line x1="440.15" y1="380.00" x2="445.35" y2="380.00" stroke="#1a1a1a" stroke-width="1.4"/>
<text x="442.75" y="377.90" font-size="5.2" text-anchor="middle" stroke="#1a1a1a" stroke-width="0.22">**</text>
<line x1="442.75" y1="419.00" x2="442.75" y2="421.00" stroke="#1a1a1a" stroke-width="0.9"/>
<text x="443.65" y="425.60" font-size="5.8" text-anchor="end" stroke="#1a1a1a" stroke-width="0.22" transform="rotate(-45 443.65 425.60)">Dasatinib 100nM</text>
<line x1="213.40" y1="476.00" x2="213.40" y2="547.00" stroke="#1a1a1a" stroke-width="1.2"/>
<line x1="212.80" y1="546.40" x2="319.70" y2="546.40" stroke="#1a1a1a" stroke-width="1.2"/>
<line x1="211.40" y1="546.40" x2="213.40" y2="546.40" stroke="#1a1a1a" stroke-width="1"/>
<text x="212.30" y="548.40" font-size="5.6" text-anchor="end" stroke="#1a1a1a" stroke-width="0.22">0.0</text>
<line x1="211.40" y1="523.13" x2="213.40" y2="523.13" stroke="#1a1a1a" stroke-width="1"/>
<text x="212.30" y="525.13" font-size="5.6" text-anchor="end" stroke="#1a1a1a" stroke-width="0.22">0.5</text>
<line x1="211.40" y1="499.87" x2="213.40" y2="499.87" stroke="#1a1a1a" stroke-width="1"/>
<text x="212.30" y="501.87" font-size="5.6" text-anchor="end" stroke="#1a1a1a" stroke-width="0.22">1.0</text>
<line x1="211.40" y1="476.60" x2="213.40" y2="476.60" stroke="#1a1a1a" stroke-width="1"/>
<text x="212.30" y="478.60" font-size="5.6" text-anchor="end" stroke="#1a1a1a" stroke-width="0.22">1.5</text>
<text x="261.90" y="467.90" font-size="6.6" text-anchor="middle" font-style="italic" stroke="#1a1a1a" stroke-width="0.22">Pim1</text>
<text x="202.20" y="508.70" font-size="5.8" text-anchor="middle" stroke="#1a1a1a" stroke-width="0.22" transform="rotate(-90 202.20 508.70)">Rel. Expression</text>
<rect x="216.80" y="500.00" width="11.60" height="46.40" fill="#747474" stroke="#1a1a1a" stroke-width="1.25"/>
<line x1="222.60" y1="546.40" x2="222.60" y2="548.40" stroke="#1a1a1a" stroke-width="0.9"/>
<text x="223.50" y="553.00" font-size="5.8" text-anchor="end" stroke="#1a1a1a" stroke-width="0.22" transform="rotate(-45 223.50 553.00)">DMSO</text>
<rect x="234.10" y="538.40" width="12.70" height="8.00" fill="#f0a050" stroke="#1a1a1a" stroke-width="1.25"/>
<line x1="240.45" y1="538.40" x2="240.45" y2="537.60" stroke="#1a1a1a" stroke-width="1.4"/>
<line x1="237.85" y1="537.60" x2="243.05" y2="537.60" stroke="#1a1a1a" stroke-width="1.4"/>
<text x="240.45" y="535.90" font-size="5.2" text-anchor="middle" stroke="#1a1a1a" stroke-width="0.22">***</text>
<line x1="240.45" y1="546.40" x2="240.45" y2="548.40" stroke="#1a1a1a" stroke-width="0.9"/>
<text x="241.35" y="553.00" font-size="5.8" text-anchor="end" stroke="#1a1a1a" stroke-width="0.22" transform="rotate(-45 241.35 553.00)">Ruxolitinib 1µM</text>
<rect x="252.00" y="543.30" width="12.40" height="3.10" fill="#e0641e" stroke="#1a1a1a" stroke-width="1.25"/>
<line x1="258.20" y1="543.30" x2="258.20" y2="542.60" stroke="#1a1a1a" stroke-width="1.4"/>
<line x1="255.60" y1="542.60" x2="260.80" y2="542.60" stroke="#1a1a1a" stroke-width="1.4"/>
<text x="258.20" y="541.10" font-size="5.2" text-anchor="middle" stroke="#1a1a1a" stroke-width="0.22">***</text>
<line x1="258.20" y1="546.40" x2="258.20" y2="548.40" stroke="#1a1a1a" stroke-width="0.9"/>
<text x="259.10" y="553.00" font-size="5.8" text-anchor="end" stroke="#1a1a1a" stroke-width="0.22" transform="rotate(-45 259.10 553.00)">Ruxolitinib 5µM</text>
<rect x="269.50" y="513.50" width="12.10" height="32.90" fill="#5a5cf0" stroke="#1a1a1a" stroke-width="1.25"/>
<line x1="275.55" y1="513.50" x2="275.55" y2="510.60" stroke="#1a1a1a" stroke-width="1.4"/>
<line x1="272.95" y1="510.60" x2="278.15" y2="510.60" stroke="#1a1a1a" stroke-width="1.4"/>
<text x="275.55" y="508.20" font-size="5.2" text-anchor="middle" stroke="#1a1a1a" stroke-width="0.22">**</text>
<line x1="275.55" y1="546.40" x2="275.55" y2="548.40" stroke="#1a1a1a" stroke-width="0.9"/>
<text x="276.45" y="553.00" font-size="5.8" text-anchor="end" stroke="#1a1a1a" stroke-width="0.22" transform="rotate(-45 276.45 553.00)">Fedratinib 1µM</text>
<rect x="287.30" y="514.20" width="12.20" height="32.20" fill="#1414e0" stroke="#1a1a1a" stroke-width="1.25"/>
<line x1="293.40" y1="514.20" x2="293.40" y2="513.50" stroke="#1a1a1a" stroke-width="1.4"/>
<line x1="290.80" y1="513.50" x2="296.00" y2="513.50" stroke="#1a1a1a" stroke-width="1.4"/>
<text x="293.40" y="510.90" font-size="5.2" text-anchor="middle" stroke="#1a1a1a" stroke-width="0.22">**</text>
<line x1="293.40" y1="546.40" x2="293.40" y2="548.40" stroke="#1a1a1a" stroke-width="0.9"/>
<text x="294.30" y="553.00" font-size="5.8" text-anchor="end" stroke="#1a1a1a" stroke-width="0.22" transform="rotate(-45 294.30 553.00)">Fedratinib 5µM</text>
<rect x="304.70" y="504.30" width="12.40" height="42.10" fill="#d6d6d6" stroke="#1a1a1a" stroke-width="1.25"/>
<line x1="310.90" y1="504.30" x2="310.90" y2="502.60" stroke="#1a1a1a" stroke-width="1.4"/>
<line x1="308.30" y1="502.60" x2="313.50" y2="502.60" stroke="#1a1a1a" stroke-width="1.4"/>
<text x="310.90" y="500.10" font-size="5.2" text-anchor="middle" stroke="#1a1a1a" stroke-width="0.22">*</text>
<line x1="310.90" y1="546.40" x2="310.90" y2="548.40" stroke="#1a1a1a" stroke-width="0.9"/>
<text x="311.80" y="553.00" font-size="5.8" text-anchor="end" stroke="#1a1a1a" stroke-width="0.22" transform="rotate(-45 311.80 553.00)">Dasatinib 100nM</text>
<line x1="344.70" y1="474.70" x2="344.70" y2="546.60" stroke="#1a1a1a" stroke-width="1.2"/>
<line x1="344.10" y1="546.00" x2="452.00" y2="546.00" stroke="#1a1a1a" stroke-width="1.2"/>
<line x1="342.70" y1="546.00" x2="344.70" y2="546.00" stroke="#1a1a1a" stroke-width="1"/>
<text x="343.60" y="548.00" font-size="5.6" text-anchor="end" stroke="#1a1a1a" stroke-width="0.22">0.0</text>
<line x1="342.70" y1="522.43" x2="344.70" y2="522.43" stroke="#1a1a1a" stroke-width="1"/>
<text x="343.60" y="524.43" font-size="5.6" text-anchor="end" stroke="#1a1a1a" stroke-width="0.22">0.5</text>
<line x1="342.70" y1="498.87" x2="344.70" y2="498.87" stroke="#1a1a1a" stroke-width="1"/>
<text x="343.60" y="500.87" font-size="5.6" text-anchor="end" stroke="#1a1a1a" stroke-width="0.22">1.0</text>
<line x1="342.70" y1="475.30" x2="344.70" y2="475.30" stroke="#1a1a1a" stroke-width="1"/>
<text x="343.60" y="477.30" font-size="5.6" text-anchor="end" stroke="#1a1a1a" stroke-width="0.22">1.5</text>
<text x="394.30" y="467.90" font-size="6.6" text-anchor="middle" font-style="italic" stroke="#1a1a1a" stroke-width="0.22">Cd79a</text>
<text x="333.40" y="508.70" font-size="5.8" text-anchor="middle" stroke="#1a1a1a" stroke-width="0.22" transform="rotate(-90 333.40 508.70)">Rel. Expression</text>
<rect x="347.40" y="499.30" width="12.20" height="46.70" fill="#747474" stroke="#1a1a1a" stroke-width="1.25"/>
<line x1="353.50" y1="546.00" x2="353.50" y2="548.00" stroke="#1a1a1a" stroke-width="0.9"/>
<text x="354.40" y="552.60" font-size="5.8" text-anchor="end" stroke="#1a1a1a" stroke-width="0.22" transform="rotate(-45 354.40 552.60)">DMSO</text>
<rect x="365.40" y="497.00" width="12.20" height="49.00" fill="#f0a050" stroke="#1a1a1a" stroke-width="1.25"/>
<line x1="371.50" y1="497.00" x2="371.50" y2="491.20" stroke="#1a1a1a" stroke-width="1.4"/>
<line x1="368.90" y1="491.20" x2="374.10" y2="491.20" stroke="#1a1a1a" stroke-width="1.4"/>
<line x1="371.50" y1="546.00" x2="371.50" y2="548.00" stroke="#1a1a1a" stroke-width="0.9"/>
<text x="372.40" y="552.60" font-size="5.8" text-anchor="end" stroke="#1a1a1a" stroke-width="0.22" transform="rotate(-45 372.40 552.60)">Ruxolitinib 1µM</text>
<rect x="383.20" y="494.70" width="12.20" height="51.30" fill="#e0641e" stroke="#1a1a1a" stroke-width="1.25"/>
<line x1="389.30" y1="494.70" x2="389.30" y2="487.30" stroke="#1a1a1a" stroke-width="1.4"/>
<line x1="386.70" y1="487.30" x2="391.90" y2="487.30" stroke="#1a1a1a" stroke-width="1.4"/>
<line x1="389.30" y1="546.00" x2="389.30" y2="548.00" stroke="#1a1a1a" stroke-width="0.9"/>
<text x="390.20" y="552.60" font-size="5.8" text-anchor="end" stroke="#1a1a1a" stroke-width="0.22" transform="rotate(-45 390.20 552.60)">Ruxolitinib 5µM</text>
<rect x="401.20" y="501.20" width="12.20" height="44.80" fill="#5a5cf0" stroke="#1a1a1a" stroke-width="1.25"/>
<line x1="407.30" y1="501.20" x2="407.30" y2="500.50" stroke="#1a1a1a" stroke-width="1.4"/>
<line x1="404.70" y1="500.50" x2="409.90" y2="500.50" stroke="#1a1a1a" stroke-width="1.4"/>
<text x="407.30" y="498.30" font-size="5.2" text-anchor="middle" stroke="#1a1a1a" stroke-width="0.22">*</text>
<line x1="407.30" y1="546.00" x2="407.30" y2="548.00" stroke="#1a1a1a" stroke-width="0.9"/>
<text x="408.20" y="552.60" font-size="5.8" text-anchor="end" stroke="#1a1a1a" stroke-width="0.22" transform="rotate(-45 408.20 552.60)">Fedratinib 1µM</text>
<rect x="418.90" y="503.50" width="12.30" height="42.50" fill="#1414e0" stroke="#1a1a1a" stroke-width="1.25"/>
<line x1="425.05" y1="503.50" x2="425.05" y2="496.50" stroke="#1a1a1a" stroke-width="1.4"/>
<line x1="422.45" y1="496.50" x2="427.65" y2="496.50" stroke="#1a1a1a" stroke-width="1.4"/>
<line x1="425.05" y1="546.00" x2="425.05" y2="548.00" stroke="#1a1a1a" stroke-width="0.9"/>
<text x="425.95" y="552.60" font-size="5.8" text-anchor="end" stroke="#1a1a1a" stroke-width="0.22" transform="rotate(-45 425.95 552.60)">Fedratinib 5µM</text>
<rect x="436.90" y="500.50" width="12.30" height="45.50" fill="#d6d6d6" stroke="#1a1a1a" stroke-width="1.25"/>
<line x1="443.05" y1="500.50" x2="443.05" y2="499.90" stroke="#1a1a1a" stroke-width="1.4"/>
<line x1="440.45" y1="499.90" x2="445.65" y2="499.90" stroke="#1a1a1a" stroke-width="1.4"/>
<line x1="443.05" y1="546.00" x2="443.05" y2="548.00" stroke="#1a1a1a" stroke-width="0.9"/>
<text x="443.95" y="552.60" font-size="5.8" text-anchor="end" stroke="#1a1a1a" stroke-width="0.22" transform="rotate(-45 443.95 552.60)">Dasatinib 100nM</text></svg>
</body></html>
